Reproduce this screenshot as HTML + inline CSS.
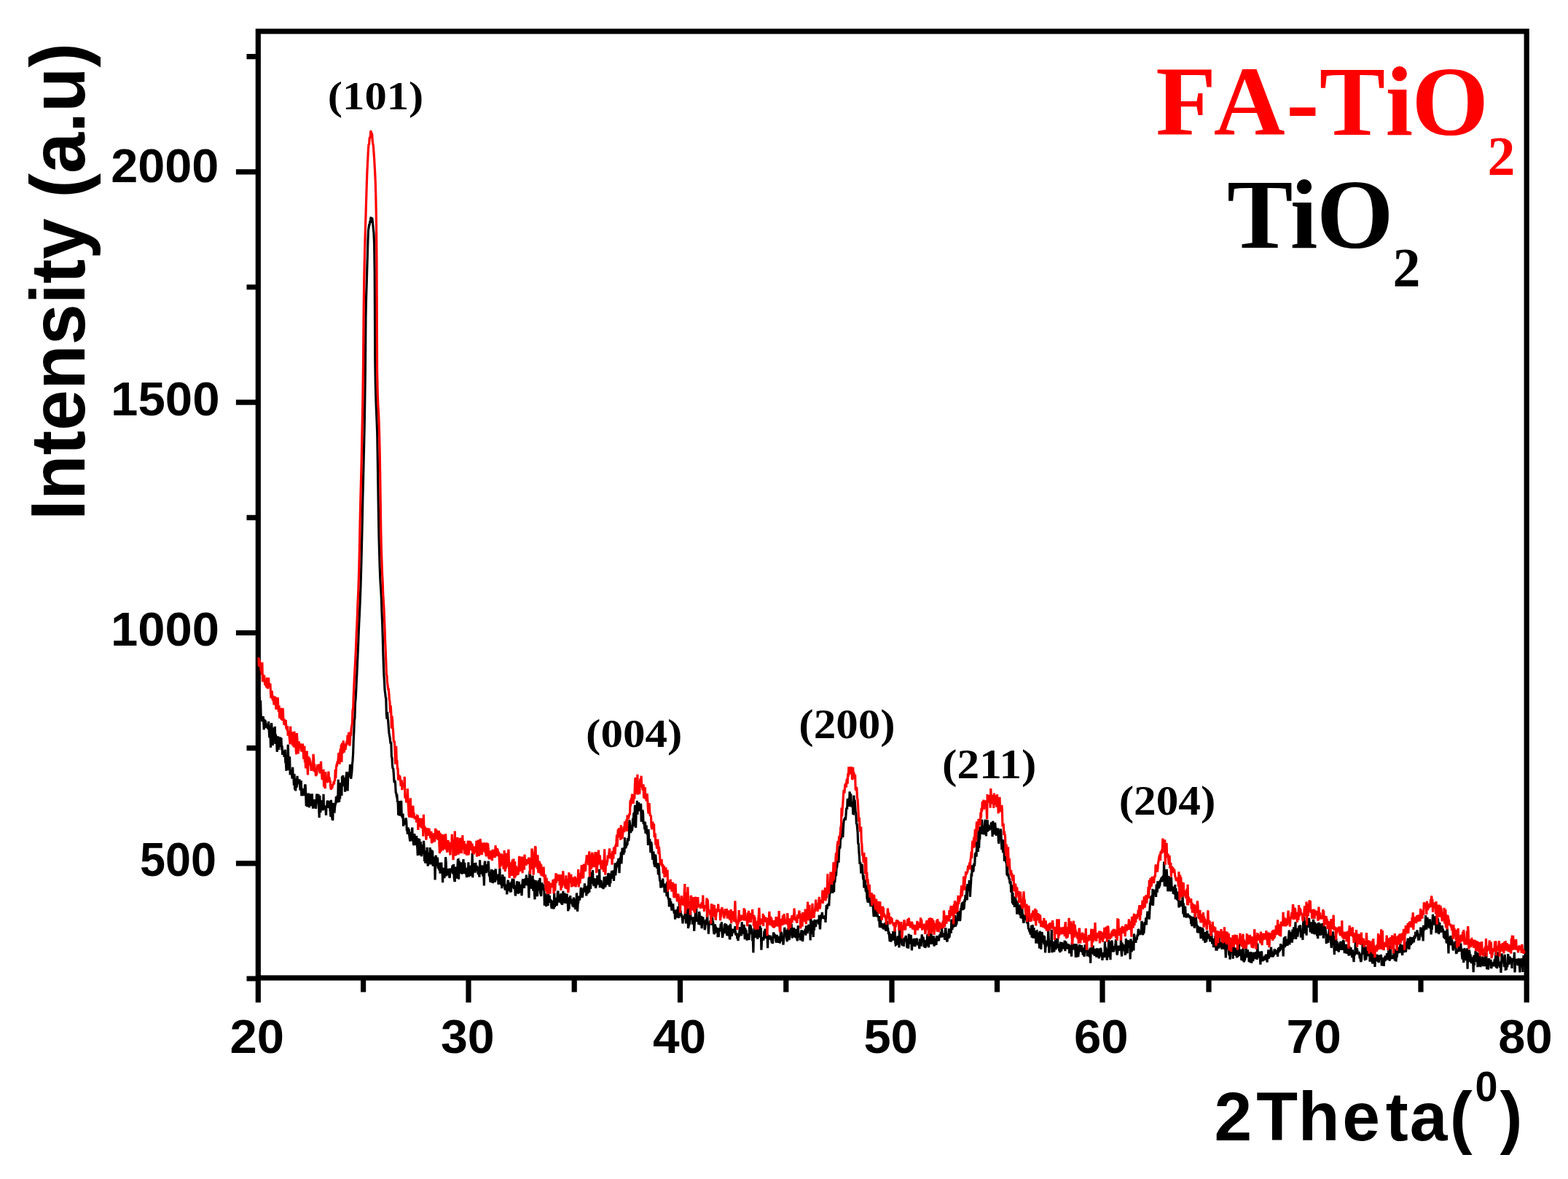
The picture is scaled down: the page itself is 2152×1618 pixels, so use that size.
<!DOCTYPE html>
<html><head><meta charset="utf-8"><title>XRD patterns of TiO2 and FA-TiO2</title><style>
html,body{margin:0;padding:0;background:#fff;overflow:hidden;}
svg{display:block;}
.sans{font-family:"Liberation Sans",Arial,sans-serif;font-weight:bold;}
.serif{font-family:"Liberation Serif","Times New Roman",serif;font-weight:bold;}
</style></head><body>
<svg width="2152" height="1618" viewBox="0 0 2152 1618">
<rect width="2152" height="1618" fill="#fff"/>
<path d="M498.6 1342.0V1361.6M643.0 1342.0V1375.8M788.2 1342.0V1361.6M933.5 1342.0V1375.8M1078.8 1342.0V1361.6M1224.0 1342.0V1375.8M1368.5 1342.0V1361.6M1513.0 1342.0V1375.8M1659.0 1342.0V1361.6M1805.0 1342.0V1375.8M1950.0 1342.0V1361.6M354.3 1342.0V1375.8M2095.2 1342.0V1375.8M354.3 1343.0H338.5M354.3 1184.8H323.9M354.3 1026.7H338.5M354.3 868.5H323.9M354.3 710.4H338.5M354.3 552.2H323.9M354.3 394.0H338.5M354.3 235.9H323.9M354.3 77.7H338.5" stroke="#000" stroke-width="7.2" fill="none"/>
<rect x="354.3" y="43.0" width="1740.9" height="1299.0" fill="none" stroke="#000" stroke-width="7.2"/>
<polyline fill="none" stroke="#000" stroke-width="3.2" stroke-linejoin="miter" stroke-miterlimit="2" points="355.0,972.0 355.3,970.5 355.8,970.7 356.4,956.3 357.0,978.1 357.6,961.3 358.2,985.2 358.7,984.8 359.3,988.2 359.9,989.9 360.5,987.7 361.1,983.1 361.6,986.4 362.2,1001.4 362.8,987.2 363.4,991.1 364.0,988.6 364.5,991.2 365.1,993.8 365.7,999.1 366.3,995.7 366.9,996.0 367.4,994.6 368.0,1000.8 368.6,990.2 369.2,1001.8 369.8,1012.3 370.3,996.5 370.9,1002.8 371.5,1026.0 372.1,996.6 372.7,992.3 373.2,1002.3 373.8,1020.5 374.4,1023.0 375.0,998.5 375.6,1013.3 376.1,1009.9 376.7,1006.4 377.3,997.1 377.9,1020.9 378.5,1007.6 379.0,1017.6 379.6,1017.0 380.2,1031.7 380.8,1027.4 381.4,1010.3 381.9,1018.1 382.5,1029.0 383.1,1011.4 383.7,1019.6 384.3,1025.2 384.8,1011.7 385.4,1015.5 386.0,1012.8 386.6,1029.1 387.2,1023.5 387.7,1035.9 388.3,1030.6 388.9,1035.2 389.5,1031.3 390.1,1038.8 390.6,1033.7 391.2,1028.7 391.8,1046.3 392.4,1046.6 393.0,1057.8 393.5,1042.4 394.1,1041.3 394.7,1037.1 395.3,1021.8 395.9,1042.2 396.4,1057.1 397.0,1049.0 397.6,1038.2 398.2,1063.4 398.8,1056.0 399.3,1058.9 399.9,1059.5 400.5,1062.9 401.1,1068.6 401.7,1052.8 402.2,1065.3 402.8,1064.2 403.4,1077.8 404.0,1062.1 404.6,1083.7 405.1,1076.7 405.7,1085.5 406.3,1068.4 406.9,1081.0 407.5,1078.4 408.0,1064.8 408.6,1075.3 409.2,1074.6 409.8,1071.4 410.4,1073.7 410.9,1069.3 411.5,1077.6 412.1,1084.6 412.7,1076.6 413.3,1071.2 413.8,1092.3 414.4,1081.9 415.0,1085.7 415.6,1084.2 416.2,1082.5 416.7,1092.1 417.3,1083.8 417.9,1088.7 418.5,1077.7 419.1,1076.7 419.6,1087.1 420.2,1105.9 420.8,1092.7 421.4,1107.1 422.0,1095.8 422.5,1096.3 423.1,1088.5 423.7,1093.4 424.3,1108.3 424.9,1103.9 425.4,1089.9 426.0,1091.5 426.6,1106.3 427.2,1091.9 427.8,1103.7 428.3,1089.3 428.9,1102.0 429.5,1109.5 430.1,1104.3 430.7,1099.8 431.2,1099.2 431.8,1097.7 432.4,1098.5 433.0,1108.4 433.6,1108.5 434.1,1102.7 434.7,1089.5 435.3,1095.7 435.9,1102.6 436.5,1100.9 437.0,1089.9 437.6,1106.4 438.2,1122.2 438.8,1091.8 439.4,1102.5 439.9,1115.3 440.5,1099.3 441.1,1099.7 441.7,1104.7 442.3,1108.2 442.8,1100.8 443.4,1112.3 444.0,1089.9 444.6,1110.8 445.2,1109.0 445.7,1105.4 446.3,1110.3 446.9,1108.2 447.5,1118.9 448.1,1105.2 448.6,1109.0 449.2,1098.7 449.8,1101.3 450.4,1108.8 451.0,1098.8 451.5,1104.9 452.1,1101.5 452.7,1108.6 453.3,1113.8 453.9,1120.8 454.4,1097.9 455.0,1112.2 455.6,1121.0 456.2,1125.3 456.8,1124.8 457.3,1101.9 457.9,1107.4 458.5,1113.2 459.1,1113.6 459.7,1106.7 460.2,1104.4 460.8,1102.3 461.4,1093.2 462.0,1098.5 462.6,1101.7 463.1,1091.6 463.7,1101.3 464.3,1069.9 464.9,1087.2 465.5,1101.0 466.0,1093.5 466.6,1096.5 467.2,1085.4 467.8,1074.1 468.4,1077.9 468.9,1092.0 469.5,1065.4 470.1,1070.9 470.7,1064.0 471.3,1072.0 471.8,1072.0 472.4,1079.0 473.0,1067.3 473.6,1086.7 474.2,1077.7 474.7,1068.3 475.3,1063.7 475.9,1059.2 476.5,1071.5 477.1,1085.4 477.6,1067.9 478.2,1060.3 478.8,1066.8 479.4,1062.2 480.0,1057.9 480.5,1049.1 481.1,1060.5 481.7,1068.8 482.3,1063.9 482.9,1058.8 483.4,1049.7 484.0,1044.2 484.6,1034.8 485.2,1016.4 485.8,1004.3 486.3,989.6 486.9,985.6 487.5,965.0 488.1,959.3 488.7,948.3 489.2,937.0 489.8,925.3 490.4,911.4 491.0,898.4 491.6,884.9 492.1,871.2 492.7,856.9 493.3,845.3 493.9,832.0 494.5,817.5 495.0,803.5 495.6,783.6 496.2,760.7 496.8,734.7 497.4,707.9 497.9,681.6 498.5,659.2 499.1,633.9 499.7,608.8 500.3,580.6 500.8,548.7 501.4,506.7 502.0,434.8 502.6,408.0 503.2,389.9 503.7,371.8 504.3,352.6 504.9,331.2 505.5,316.1 506.1,312.2 506.6,308.6 507.2,308.4 507.8,304.1 508.4,303.9 509.0,297.6 509.5,305.9 510.1,302.4 510.7,298.6 511.3,303.3 511.9,309.2 512.4,314.4 513.0,320.2 513.6,333.8 514.2,373.4 514.8,496.1 515.3,527.4 515.9,548.1 516.5,564.3 517.1,578.2 517.7,594.4 518.2,624.3 518.8,662.1 519.4,701.5 520.0,735.5 520.6,758.0 521.1,775.8 521.7,791.8 522.3,803.2 522.9,811.2 523.5,823.1 524.0,839.2 524.6,853.8 525.2,871.8 525.8,894.6 526.4,913.5 526.9,925.8 527.5,935.7 528.1,947.2 528.7,951.4 529.3,957.2 529.8,958.2 530.4,980.5 531.0,986.6 531.6,977.2 532.2,985.6 532.7,989.6 533.3,997.8 533.9,1005.4 534.5,1009.4 535.1,1012.3 535.6,1017.2 536.2,1021.1 536.8,1017.9 537.4,1038.5 538.0,1039.8 538.5,1050.5 539.1,1054.9 539.7,1054.1 540.3,1061.9 540.9,1071.9 541.4,1074.2 542.0,1071.0 542.6,1075.4 543.2,1087.6 543.8,1088.6 544.3,1092.2 544.9,1091.9 545.5,1100.9 546.1,1099.1 546.7,1118.8 547.2,1100.0 547.8,1100.6 548.4,1119.7 549.0,1109.4 549.6,1106.3 550.1,1117.0 550.7,1098.7 551.3,1120.7 551.9,1119.3 552.5,1122.8 553.0,1116.6 553.6,1133.9 554.2,1128.1 554.8,1127.3 555.4,1131.7 555.9,1124.3 556.5,1131.1 557.1,1122.4 557.7,1126.8 558.3,1138.7 558.8,1138.7 559.4,1144.8 560.0,1135.5 560.6,1140.9 561.2,1137.7 561.7,1146.0 562.3,1151.1 562.9,1154.4 563.5,1151.6 564.1,1142.0 564.6,1150.6 565.2,1141.7 565.8,1135.6 566.4,1152.7 567.0,1152.7 567.5,1158.6 568.1,1159.9 568.7,1144.4 569.3,1147.6 569.9,1155.4 570.4,1156.6 571.0,1159.9 571.6,1147.1 572.2,1156.0 572.8,1163.7 573.3,1174.2 573.9,1150.3 574.5,1173.5 575.1,1159.5 575.7,1151.4 576.2,1173.7 576.8,1156.1 577.4,1156.3 578.0,1171.8 578.6,1175.2 579.1,1168.7 579.7,1163.6 580.3,1158.7 580.9,1171.9 581.5,1153.9 582.0,1161.5 582.6,1181.9 583.2,1179.2 583.8,1184.6 584.4,1178.9 584.9,1167.2 585.5,1180.4 586.1,1162.7 586.7,1182.9 587.3,1188.6 587.8,1170.0 588.4,1186.4 589.0,1178.8 589.6,1177.4 590.2,1163.1 590.7,1177.9 591.3,1186.3 591.9,1165.8 592.5,1175.9 593.1,1174.3 593.6,1167.2 594.2,1188.7 594.8,1180.8 595.4,1181.2 596.0,1189.0 596.5,1175.6 597.1,1207.5 597.7,1178.7 598.3,1173.7 598.9,1188.3 599.4,1186.9 600.0,1177.1 600.6,1178.2 601.2,1192.2 601.8,1188.7 602.3,1190.3 602.9,1194.5 603.5,1183.8 604.1,1198.7 604.7,1189.8 605.2,1195.7 605.8,1183.6 606.4,1196.9 607.0,1193.7 607.6,1211.2 608.1,1190.9 608.7,1204.3 609.3,1197.6 609.9,1205.1 610.5,1195.0 611.0,1197.1 611.6,1176.2 612.2,1183.8 612.8,1202.2 613.4,1197.5 613.9,1200.4 614.5,1192.5 615.1,1200.8 615.7,1192.0 616.3,1194.4 616.8,1204.6 617.4,1203.6 618.0,1191.7 618.6,1195.5 619.2,1197.0 619.7,1194.0 620.3,1194.3 620.9,1187.6 621.5,1199.3 622.1,1186.6 622.6,1187.1 623.2,1204.4 623.8,1208.6 624.4,1208.6 625.0,1196.8 625.5,1189.7 626.1,1199.5 626.7,1205.7 627.3,1194.4 627.9,1190.2 628.4,1180.1 629.0,1179.8 629.6,1206.7 630.2,1181.5 630.8,1187.9 631.3,1190.8 631.9,1195.2 632.5,1183.2 633.1,1197.9 633.7,1198.1 634.2,1194.3 634.8,1189.0 635.4,1191.1 636.0,1179.1 636.6,1199.2 637.1,1190.4 637.7,1183.9 638.3,1194.4 638.9,1198.7 639.5,1197.7 640.0,1199.8 640.6,1204.1 641.2,1190.8 641.8,1196.4 642.4,1196.9 642.9,1183.3 643.5,1203.3 644.1,1192.0 644.7,1196.5 645.3,1196.8 645.8,1187.9 646.4,1200.6 647.0,1201.7 647.6,1195.2 648.2,1171.1 648.7,1204.3 649.3,1192.3 649.9,1188.3 650.5,1188.6 651.1,1184.5 651.6,1190.0 652.2,1197.6 652.8,1183.9 653.4,1194.1 654.0,1187.7 654.5,1190.2 655.1,1189.2 655.7,1194.5 656.3,1200.0 656.9,1191.8 657.4,1198.9 658.0,1203.6 658.6,1180.3 659.2,1198.0 659.8,1189.5 660.3,1190.5 660.9,1199.7 661.5,1190.4 662.1,1187.5 662.7,1202.5 663.2,1201.1 663.8,1196.5 664.4,1215.5 665.0,1186.2 665.6,1181.6 666.1,1192.9 666.7,1186.1 667.3,1198.0 667.9,1190.9 668.5,1191.1 669.0,1196.1 669.6,1189.8 670.2,1181.7 670.8,1191.2 671.4,1202.6 671.9,1199.2 672.5,1204.8 673.1,1210.9 673.7,1205.0 674.3,1198.0 674.8,1193.0 675.4,1202.6 676.0,1211.7 676.6,1210.6 677.2,1207.2 677.7,1194.2 678.3,1205.2 678.9,1206.5 679.5,1210.8 680.1,1192.4 680.6,1197.2 681.2,1204.0 681.8,1204.4 682.4,1199.5 683.0,1208.3 683.5,1203.0 684.1,1214.0 684.7,1202.7 685.3,1208.3 685.9,1191.8 686.4,1209.5 687.0,1203.5 687.6,1214.3 688.2,1208.1 688.8,1219.1 689.3,1206.4 689.9,1200.2 690.5,1213.1 691.1,1216.1 691.7,1206.8 692.2,1203.1 692.8,1218.9 693.4,1221.5 694.0,1219.5 694.6,1215.2 695.1,1214.9 695.7,1227.4 696.3,1221.6 696.9,1209.1 697.5,1208.1 698.0,1221.1 698.6,1222.1 699.2,1212.4 699.8,1211.5 700.4,1224.7 700.9,1215.3 701.5,1224.2 702.1,1209.9 702.7,1210.9 703.3,1205.7 703.8,1218.4 704.4,1215.8 705.0,1206.3 705.6,1220.2 706.2,1215.0 706.7,1217.3 707.3,1229.5 707.9,1226.1 708.5,1222.4 709.1,1216.0 709.6,1209.3 710.2,1213.0 710.8,1214.8 711.4,1226.6 712.0,1210.1 712.5,1212.5 713.1,1216.2 713.7,1218.8 714.3,1223.6 714.9,1225.2 715.4,1213.9 716.0,1229.2 716.6,1219.5 717.2,1208.3 717.8,1206.5 718.3,1210.4 718.9,1211.3 719.5,1218.8 720.1,1206.4 720.7,1208.0 721.2,1205.6 721.8,1213.7 722.4,1200.5 723.0,1215.5 723.6,1205.1 724.1,1209.4 724.7,1214.3 725.3,1213.3 725.9,1232.3 726.5,1204.2 727.0,1195.4 727.6,1201.5 728.2,1217.9 728.8,1203.8 729.4,1219.8 729.9,1210.8 730.5,1218.3 731.1,1201.5 731.7,1221.1 732.3,1222.3 732.8,1207.0 733.4,1224.2 734.0,1234.3 734.6,1214.9 735.2,1208.3 735.7,1211.2 736.3,1213.8 736.9,1223.8 737.5,1230.3 738.1,1214.1 738.6,1215.9 739.2,1207.8 739.8,1214.7 740.4,1222.5 741.0,1204.9 741.5,1225.1 742.1,1227.2 742.7,1230.0 743.3,1217.7 743.9,1211.3 744.4,1221.4 745.0,1217.1 745.6,1213.3 746.2,1221.6 746.8,1218.6 747.3,1242.6 747.9,1236.0 748.5,1238.3 749.1,1226.2 749.7,1244.3 750.2,1233.6 750.8,1243.0 751.4,1230.8 752.0,1243.0 752.6,1226.8 753.1,1237.7 753.7,1237.2 754.3,1228.9 754.9,1238.9 755.5,1234.4 756.0,1235.4 756.6,1243.3 757.2,1247.0 757.8,1235.9 758.4,1246.2 758.9,1243.9 759.5,1241.7 760.1,1247.5 760.7,1224.9 761.3,1245.0 761.8,1237.9 762.4,1232.1 763.0,1233.4 763.6,1241.8 764.2,1242.8 764.7,1239.0 765.3,1225.2 765.9,1222.7 766.5,1233.3 767.1,1237.4 767.6,1227.5 768.2,1238.7 768.8,1236.5 769.4,1235.4 770.0,1226.2 770.5,1240.8 771.1,1238.8 771.7,1241.6 772.3,1234.5 772.9,1222.8 773.4,1235.1 774.0,1239.0 774.6,1232.3 775.2,1225.7 775.8,1238.4 776.3,1239.6 776.9,1226.8 777.5,1231.1 778.1,1226.5 778.7,1239.5 779.2,1238.9 779.8,1250.4 780.4,1231.4 781.0,1247.8 781.6,1236.4 782.1,1240.0 782.7,1229.0 783.3,1238.2 783.9,1234.1 784.5,1237.2 785.0,1239.4 785.6,1241.6 786.2,1244.1 786.8,1237.9 787.4,1231.5 787.9,1245.5 788.5,1238.6 789.1,1233.6 789.7,1248.1 790.3,1240.1 790.8,1243.1 791.4,1225.5 792.0,1232.8 792.6,1250.9 793.2,1239.6 793.7,1238.7 794.3,1229.6 794.9,1232.8 795.5,1235.4 796.1,1231.4 796.6,1230.3 797.2,1217.9 797.8,1223.6 798.4,1225.2 799.0,1231.5 799.5,1230.4 800.1,1225.8 800.7,1219.8 801.3,1218.9 801.9,1224.7 802.4,1212.4 803.0,1219.3 803.6,1217.6 804.2,1216.9 804.8,1229.5 805.3,1215.7 805.9,1222.0 806.5,1226.6 807.1,1218.0 807.7,1213.7 808.2,1203.9 808.8,1224.9 809.4,1204.2 810.0,1196.9 810.6,1219.9 811.1,1200.6 811.7,1202.3 812.3,1205.7 812.9,1201.8 813.5,1194.1 814.0,1211.8 814.6,1213.8 815.2,1215.8 815.8,1209.6 816.4,1206.7 816.9,1205.6 817.5,1219.0 818.1,1216.1 818.7,1206.3 819.3,1212.2 819.8,1201.4 820.4,1214.3 821.0,1203.1 821.6,1210.5 822.2,1210.4 822.7,1192.9 823.3,1218.1 823.9,1213.5 824.5,1208.4 825.1,1209.3 825.6,1214.2 826.2,1214.0 826.8,1218.8 827.4,1216.6 828.0,1219.9 828.5,1217.0 829.1,1204.5 829.7,1204.1 830.3,1217.4 830.9,1216.2 831.4,1212.6 832.0,1202.5 832.6,1206.1 833.2,1204.5 833.8,1214.4 834.3,1202.9 834.9,1198.1 835.5,1201.3 836.1,1208.5 836.7,1217.0 837.2,1201.1 837.8,1212.1 838.4,1199.8 839.0,1199.0 839.6,1195.0 840.1,1206.0 840.7,1195.7 841.3,1205.2 841.9,1194.3 842.5,1208.9 843.0,1196.8 843.6,1194.5 844.2,1184.3 844.8,1201.4 845.4,1193.1 845.9,1190.3 846.5,1188.8 847.1,1183.9 847.7,1182.5 848.3,1187.7 848.8,1178.1 849.4,1181.7 850.0,1198.2 850.6,1179.4 851.2,1176.9 851.7,1184.4 852.3,1169.2 852.9,1185.4 853.5,1173.7 854.1,1163.7 854.6,1169.8 855.2,1164.3 855.8,1173.1 856.4,1163.1 857.0,1170.2 857.5,1149.3 858.1,1158.5 858.7,1164.1 859.3,1161.9 859.9,1156.9 860.4,1160.2 861.0,1158.6 861.6,1151.2 862.2,1151.0 862.8,1154.1 863.3,1146.9 863.9,1125.4 864.5,1130.5 865.1,1135.2 865.7,1143.0 866.2,1136.7 866.8,1139.3 867.4,1140.4 868.0,1135.4 868.6,1122.9 869.1,1134.3 869.7,1116.6 870.3,1115.4 870.9,1119.8 871.5,1104.7 872.0,1132.1 872.6,1135.9 873.2,1115.7 873.8,1112.8 874.4,1098.7 874.9,1117.9 875.5,1107.6 876.1,1103.0 876.7,1101.2 877.3,1111.6 877.8,1111.3 878.4,1112.7 879.0,1109.9 879.6,1102.7 880.2,1127.7 880.7,1124.4 881.3,1115.6 881.9,1111.6 882.5,1115.7 883.1,1129.8 883.6,1130.1 884.2,1130.0 884.8,1138.3 885.4,1127.5 886.0,1143.7 886.5,1136.9 887.1,1132.6 887.7,1143.8 888.3,1144.8 888.9,1140.0 889.4,1159.9 890.0,1138.1 890.6,1153.8 891.2,1157.1 891.8,1151.4 892.3,1159.0 892.9,1170.1 893.5,1155.2 894.1,1157.7 894.7,1165.2 895.2,1173.4 895.8,1179.9 896.4,1178.3 897.0,1168.5 897.6,1186.3 898.1,1185.6 898.7,1189.8 899.3,1172.9 899.9,1174.5 900.5,1183.6 901.0,1187.0 901.6,1191.9 902.2,1186.2 902.8,1188.2 903.4,1200.4 903.9,1184.4 904.5,1192.6 905.1,1202.7 905.7,1209.4 906.3,1207.7 906.8,1218.5 907.4,1211.1 908.0,1215.4 908.6,1217.6 909.2,1213.7 909.7,1205.7 910.3,1214.2 910.9,1216.1 911.5,1212.9 912.1,1224.8 912.6,1217.8 913.2,1212.5 913.8,1223.9 914.4,1218.4 915.0,1230.2 915.5,1210.0 916.1,1217.6 916.7,1230.5 917.3,1233.4 917.9,1233.5 918.4,1244.5 919.0,1233.8 919.6,1233.2 920.2,1243.5 920.8,1236.8 921.3,1242.8 921.9,1249.7 922.5,1241.2 923.1,1242.5 923.7,1240.0 924.2,1247.7 924.8,1250.1 925.4,1253.7 926.0,1251.9 926.6,1261.7 927.1,1249.9 927.7,1250.5 928.3,1248.4 928.9,1259.6 929.5,1252.2 930.0,1250.4 930.6,1244.1 931.2,1252.7 931.8,1260.0 932.4,1237.2 932.9,1247.7 933.5,1249.5 934.1,1250.6 934.7,1256.9 935.3,1254.4 935.8,1258.3 936.4,1259.7 937.0,1267.3 937.6,1256.6 938.2,1261.0 938.7,1257.3 939.3,1260.2 939.9,1256.9 940.5,1251.6 941.1,1262.3 941.6,1267.3 942.2,1253.5 942.8,1259.9 943.4,1260.1 944.0,1245.9 944.5,1273.9 945.1,1270.7 945.7,1268.9 946.3,1267.8 946.9,1255.2 947.4,1244.4 948.0,1260.8 948.6,1261.9 949.2,1259.6 949.8,1258.5 950.3,1268.4 950.9,1267.1 951.5,1261.7 952.1,1258.5 952.7,1277.6 953.2,1267.8 953.8,1262.9 954.4,1253.3 955.0,1251.8 955.6,1243.5 956.1,1260.8 956.7,1264.6 957.3,1261.5 957.9,1262.8 958.5,1264.6 959.0,1268.8 959.6,1251.0 960.2,1254.7 960.8,1269.4 961.4,1265.4 961.9,1267.0 962.5,1256.9 963.1,1274.2 963.7,1264.8 964.3,1262.6 964.8,1258.3 965.4,1265.8 966.0,1265.8 966.6,1264.1 967.2,1276.1 967.7,1273.4 968.3,1265.5 968.9,1261.9 969.5,1263.1 970.1,1268.6 970.6,1247.8 971.2,1268.9 971.8,1265.6 972.4,1281.7 973.0,1270.7 973.5,1266.9 974.1,1268.6 974.7,1264.4 975.3,1264.2 975.9,1268.8 976.4,1256.1 977.0,1269.8 977.6,1258.9 978.2,1265.6 978.8,1265.8 979.3,1275.6 979.9,1281.6 980.5,1281.0 981.1,1268.5 981.7,1270.4 982.2,1272.5 982.8,1273.5 983.4,1280.2 984.0,1277.4 984.6,1273.1 985.1,1286.2 985.7,1279.5 986.3,1286.0 986.9,1273.5 987.5,1278.0 988.0,1276.5 988.6,1275.7 989.2,1267.7 989.8,1276.6 990.4,1265.3 990.9,1277.8 991.5,1286.9 992.1,1283.2 992.7,1277.8 993.3,1274.0 993.8,1281.2 994.4,1269.4 995.0,1268.4 995.6,1267.9 996.2,1279.4 996.7,1268.1 997.3,1281.0 997.9,1284.0 998.5,1281.9 999.1,1276.8 999.6,1280.4 1000.2,1269.8 1000.8,1279.2 1001.4,1289.2 1002.0,1287.9 1002.5,1267.8 1003.1,1277.9 1003.7,1276.3 1004.3,1284.7 1004.9,1280.5 1005.4,1278.2 1006.0,1274.7 1006.6,1280.1 1007.2,1278.2 1007.8,1279.6 1008.3,1278.3 1008.9,1271.2 1009.5,1282.2 1010.1,1282.6 1010.7,1281.1 1011.2,1281.5 1011.8,1287.9 1012.4,1287.1 1013.0,1291.0 1013.6,1284.7 1014.1,1285.8 1014.7,1280.6 1015.3,1273.4 1015.9,1272.6 1016.5,1283.9 1017.0,1281.4 1017.6,1284.2 1018.2,1265.4 1018.8,1279.2 1019.4,1281.4 1019.9,1278.2 1020.5,1279.0 1021.1,1268.8 1021.7,1280.0 1022.3,1289.2 1022.8,1273.3 1023.4,1284.6 1024.0,1276.2 1024.6,1282.3 1025.2,1290.6 1025.7,1281.7 1026.3,1283.9 1026.9,1285.8 1027.5,1281.4 1028.1,1290.0 1028.6,1268.6 1029.2,1279.8 1029.8,1269.5 1030.4,1272.1 1031.0,1282.2 1031.5,1274.4 1032.1,1279.8 1032.7,1291.5 1033.3,1286.3 1033.9,1307.5 1034.4,1282.2 1035.0,1283.5 1035.6,1266.8 1036.2,1283.1 1036.8,1280.3 1037.3,1286.6 1037.9,1283.8 1038.5,1279.4 1039.1,1270.9 1039.7,1288.9 1040.2,1279.3 1040.8,1272.6 1041.4,1286.6 1042.0,1270.9 1042.6,1280.1 1043.1,1270.6 1043.7,1282.4 1044.3,1273.2 1044.9,1303.6 1045.5,1291.9 1046.0,1287.6 1046.6,1286.9 1047.2,1289.0 1047.8,1290.4 1048.4,1286.6 1048.9,1277.6 1049.5,1286.0 1050.1,1274.6 1050.7,1282.6 1051.3,1287.8 1051.8,1277.9 1052.4,1288.1 1053.0,1282.0 1053.6,1301.1 1054.2,1282.8 1054.7,1288.7 1055.3,1289.5 1055.9,1286.4 1056.5,1287.6 1057.1,1283.7 1057.6,1286.4 1058.2,1286.8 1058.8,1291.1 1059.4,1294.1 1060.0,1285.6 1060.5,1295.1 1061.1,1285.7 1061.7,1279.5 1062.3,1282.9 1062.9,1281.4 1063.4,1284.3 1064.0,1286.2 1064.6,1287.3 1065.2,1293.6 1065.8,1290.7 1066.3,1282.9 1066.9,1289.3 1067.5,1285.2 1068.1,1290.7 1068.7,1293.8 1069.2,1284.8 1069.8,1290.6 1070.4,1294.5 1071.0,1287.8 1071.6,1278.1 1072.1,1284.5 1072.7,1279.3 1073.3,1291.7 1073.9,1286.4 1074.5,1287.1 1075.0,1296.6 1075.6,1289.8 1076.2,1285.7 1076.8,1272.7 1077.4,1281.1 1077.9,1279.9 1078.5,1283.1 1079.1,1276.0 1079.7,1288.3 1080.3,1292.3 1080.8,1281.6 1081.4,1274.2 1082.0,1284.5 1082.6,1282.1 1083.2,1290.1 1083.7,1283.0 1084.3,1278.4 1084.9,1274.0 1085.5,1283.2 1086.1,1267.5 1086.6,1275.6 1087.2,1287.5 1087.8,1281.6 1088.4,1282.2 1089.0,1280.8 1089.5,1273.1 1090.1,1279.6 1090.7,1285.1 1091.3,1285.4 1091.9,1274.9 1092.4,1282.2 1093.0,1287.7 1093.6,1283.1 1094.2,1291.4 1094.8,1281.3 1095.3,1270.2 1095.9,1280.9 1096.5,1281.9 1097.1,1285.2 1097.7,1283.9 1098.2,1290.5 1098.8,1284.3 1099.4,1281.4 1100.0,1276.5 1100.6,1278.2 1101.1,1288.2 1101.7,1291.9 1102.3,1281.5 1102.9,1280.2 1103.5,1277.4 1104.0,1280.0 1104.6,1278.6 1105.2,1274.7 1105.8,1283.7 1106.4,1270.2 1106.9,1278.2 1107.5,1278.0 1108.1,1281.0 1108.7,1275.3 1109.3,1269.7 1109.8,1275.1 1110.4,1268.6 1111.0,1272.7 1111.6,1269.7 1112.2,1290.5 1112.7,1259.7 1113.3,1265.8 1113.9,1281.6 1114.5,1271.7 1115.1,1263.6 1115.6,1276.5 1116.2,1286.0 1116.8,1271.8 1117.4,1277.0 1118.0,1261.9 1118.5,1266.5 1119.1,1271.3 1119.7,1270.7 1120.3,1264.5 1120.9,1264.6 1121.4,1263.9 1122.0,1262.2 1122.6,1263.3 1123.2,1262.5 1123.8,1268.7 1124.3,1255.7 1124.9,1267.7 1125.5,1275.3 1126.1,1264.1 1126.7,1259.2 1127.2,1255.3 1127.8,1257.3 1128.4,1251.8 1129.0,1260.3 1129.6,1256.8 1130.1,1261.0 1130.7,1256.4 1131.3,1258.3 1131.9,1261.3 1132.5,1256.2 1133.0,1266.0 1133.6,1254.0 1134.2,1242.0 1134.8,1247.1 1135.4,1246.3 1135.9,1240.4 1136.5,1242.7 1137.1,1240.0 1137.7,1243.3 1138.3,1232.0 1138.8,1224.9 1139.4,1226.5 1140.0,1214.8 1140.6,1208.0 1141.2,1216.9 1141.7,1218.5 1142.3,1215.3 1142.9,1225.8 1143.5,1208.5 1144.1,1205.5 1144.6,1224.3 1145.2,1198.6 1145.8,1211.1 1146.4,1202.5 1147.0,1183.8 1147.5,1202.1 1148.1,1189.8 1148.7,1189.7 1149.3,1184.3 1149.9,1180.5 1150.4,1179.7 1151.0,1183.7 1151.6,1167.6 1152.2,1161.0 1152.8,1164.7 1153.3,1158.4 1153.9,1135.0 1154.5,1151.6 1155.1,1142.7 1155.7,1140.6 1156.2,1129.3 1156.8,1149.1 1157.4,1136.7 1158.0,1127.4 1158.6,1124.9 1159.1,1124.0 1159.7,1121.9 1160.3,1125.5 1160.9,1119.9 1161.5,1110.6 1162.0,1108.8 1162.6,1110.6 1163.2,1096.5 1163.8,1096.9 1164.4,1104.1 1164.9,1095.6 1165.5,1107.0 1166.1,1086.3 1166.7,1092.3 1167.3,1090.1 1167.8,1090.5 1168.4,1104.0 1169.0,1107.4 1169.6,1101.3 1170.2,1101.0 1170.7,1116.6 1171.3,1116.8 1171.9,1091.5 1172.5,1108.1 1173.1,1097.7 1173.6,1104.6 1174.2,1114.3 1174.8,1115.6 1175.4,1131.1 1176.0,1129.8 1176.5,1136.2 1177.1,1142.4 1177.7,1158.4 1178.3,1157.1 1178.9,1168.8 1179.4,1175.4 1180.0,1185.9 1180.6,1183.2 1181.2,1186.4 1181.8,1198.6 1182.3,1194.5 1182.9,1185.7 1183.5,1190.6 1184.1,1198.6 1184.7,1207.2 1185.2,1200.9 1185.8,1218.4 1186.4,1213.4 1187.0,1211.1 1187.6,1207.1 1188.1,1222.1 1188.7,1223.9 1189.3,1214.6 1189.9,1233.0 1190.5,1234.6 1191.0,1238.4 1191.6,1230.6 1192.2,1238.9 1192.8,1221.3 1193.4,1239.2 1193.9,1235.4 1194.5,1239.0 1195.1,1244.1 1195.7,1237.7 1196.3,1242.5 1196.8,1238.4 1197.4,1240.9 1198.0,1239.9 1198.6,1250.9 1199.2,1258.1 1199.7,1244.4 1200.3,1241.3 1200.9,1251.5 1201.5,1256.6 1202.1,1256.6 1202.6,1248.1 1203.2,1256.8 1203.8,1252.1 1204.4,1255.8 1205.0,1258.6 1205.5,1257.5 1206.1,1264.2 1206.7,1258.6 1207.3,1272.8 1207.9,1264.4 1208.4,1257.0 1209.0,1271.6 1209.6,1271.5 1210.2,1268.4 1210.8,1267.4 1211.3,1270.4 1211.9,1274.5 1212.5,1268.8 1213.1,1275.7 1213.7,1267.4 1214.2,1275.1 1214.8,1266.1 1215.4,1275.5 1216.0,1277.7 1216.6,1271.2 1217.1,1277.7 1217.7,1264.1 1218.3,1276.1 1218.9,1275.7 1219.5,1282.1 1220.0,1278.5 1220.6,1285.9 1221.2,1292.1 1221.8,1281.2 1222.4,1286.8 1222.9,1292.5 1223.5,1288.4 1224.1,1289.9 1224.7,1282.1 1225.3,1286.5 1225.8,1278.1 1226.4,1290.5 1227.0,1288.2 1227.6,1288.6 1228.2,1274.5 1228.7,1293.3 1229.3,1296.8 1229.9,1296.4 1230.5,1290.7 1231.1,1296.6 1231.6,1288.6 1232.2,1284.5 1232.8,1288.5 1233.4,1284.5 1234.0,1300.5 1234.5,1273.8 1235.1,1291.2 1235.7,1284.4 1236.3,1286.5 1236.9,1294.7 1237.4,1289.9 1238.0,1297.5 1238.6,1289.8 1239.2,1290.0 1239.8,1291.6 1240.3,1299.0 1240.9,1286.9 1241.5,1289.4 1242.1,1288.0 1242.7,1288.8 1243.2,1284.0 1243.8,1290.0 1244.4,1294.8 1245.0,1301.1 1245.6,1295.2 1246.1,1288.6 1246.7,1301.6 1247.3,1281.6 1247.9,1295.7 1248.5,1285.0 1249.0,1291.9 1249.6,1284.3 1250.2,1283.2 1250.8,1289.4 1251.4,1304.3 1251.9,1295.3 1252.5,1298.8 1253.1,1291.0 1253.7,1293.2 1254.3,1288.2 1254.8,1289.4 1255.4,1291.0 1256.0,1299.1 1256.6,1295.2 1257.2,1288.4 1257.7,1292.0 1258.3,1287.5 1258.9,1296.4 1259.5,1294.7 1260.1,1294.6 1260.6,1297.4 1261.2,1296.5 1261.8,1302.2 1262.4,1288.2 1263.0,1297.5 1263.5,1291.7 1264.1,1298.7 1264.7,1289.6 1265.3,1282.3 1265.9,1290.0 1266.4,1288.6 1267.0,1285.7 1267.6,1290.1 1268.2,1299.7 1268.8,1290.2 1269.3,1296.6 1269.9,1300.9 1270.5,1298.6 1271.1,1295.0 1271.7,1297.8 1272.2,1289.2 1272.8,1283.6 1273.4,1282.2 1274.0,1297.5 1274.6,1300.1 1275.1,1289.6 1275.7,1291.5 1276.3,1276.6 1276.9,1295.7 1277.5,1290.3 1278.0,1279.2 1278.6,1293.9 1279.2,1294.4 1279.8,1295.7 1280.4,1289.6 1280.9,1291.7 1281.5,1284.4 1282.1,1298.6 1282.7,1287.4 1283.3,1297.2 1283.8,1292.4 1284.4,1287.4 1285.0,1296.8 1285.6,1284.2 1286.2,1290.4 1286.7,1288.7 1287.3,1286.7 1287.9,1288.4 1288.5,1291.4 1289.1,1284.2 1289.6,1283.2 1290.2,1284.7 1290.8,1282.1 1291.4,1279.0 1292.0,1286.6 1292.5,1273.5 1293.1,1283.4 1293.7,1280.6 1294.3,1284.1 1294.9,1285.6 1295.4,1283.9 1296.0,1281.8 1296.6,1289.9 1297.2,1277.8 1297.8,1273.1 1298.3,1278.8 1298.9,1284.4 1299.5,1291.0 1300.1,1292.4 1300.7,1281.1 1301.2,1285.7 1301.8,1288.2 1302.4,1274.4 1303.0,1286.5 1303.6,1279.3 1304.1,1275.2 1304.7,1278.9 1305.3,1279.0 1305.9,1261.5 1306.5,1274.1 1307.0,1274.3 1307.6,1267.8 1308.2,1272.7 1308.8,1268.3 1309.4,1265.0 1309.9,1268.6 1310.5,1255.9 1311.1,1270.4 1311.7,1270.3 1312.3,1268.1 1312.8,1268.7 1313.4,1261.5 1314.0,1259.7 1314.6,1251.2 1315.2,1250.2 1315.7,1255.1 1316.3,1264.2 1316.9,1256.9 1317.5,1264.0 1318.1,1258.9 1318.6,1246.2 1319.2,1247.3 1319.8,1242.5 1320.4,1238.6 1321.0,1247.7 1321.5,1248.8 1322.1,1237.1 1322.7,1247.8 1323.3,1245.0 1323.9,1234.0 1324.4,1237.9 1325.0,1227.8 1325.6,1232.1 1326.2,1233.4 1326.8,1216.2 1327.3,1235.4 1327.9,1213.0 1328.5,1222.4 1329.1,1216.5 1329.7,1223.1 1330.2,1209.6 1330.8,1209.8 1331.4,1230.8 1332.0,1219.3 1332.6,1211.4 1333.1,1198.7 1333.7,1203.0 1334.3,1187.4 1334.9,1190.4 1335.5,1195.7 1336.0,1195.3 1336.6,1184.9 1337.2,1188.6 1337.8,1185.8 1338.4,1170.6 1338.9,1174.9 1339.5,1169.4 1340.1,1175.6 1340.7,1154.7 1341.3,1162.9 1341.8,1156.0 1342.4,1169.0 1343.0,1136.3 1343.6,1163.7 1344.2,1148.4 1344.7,1152.5 1345.3,1136.1 1345.9,1136.3 1346.5,1143.2 1347.1,1144.7 1347.6,1124.6 1348.2,1137.3 1348.8,1138.1 1349.4,1139.6 1350.0,1145.3 1350.5,1141.8 1351.1,1136.7 1351.7,1128.5 1352.3,1124.8 1352.9,1137.3 1353.4,1147.3 1354.0,1135.4 1354.6,1142.0 1355.2,1125.4 1355.8,1141.1 1356.3,1131.9 1356.9,1134.1 1357.5,1138.5 1358.1,1139.3 1358.7,1135.3 1359.2,1136.5 1359.8,1136.3 1360.4,1128.4 1361.0,1132.0 1361.6,1135.0 1362.1,1148.2 1362.7,1126.7 1363.3,1137.3 1363.9,1144.9 1364.5,1143.0 1365.0,1130.9 1365.6,1128.9 1366.2,1135.0 1366.8,1142.1 1367.4,1146.7 1367.9,1139.3 1368.5,1142.5 1369.1,1139.2 1369.7,1136.5 1370.3,1153.0 1370.8,1157.9 1371.4,1144.3 1372.0,1140.1 1372.6,1152.3 1373.2,1137.5 1373.7,1139.9 1374.3,1152.3 1374.9,1166.1 1375.5,1152.3 1376.1,1157.6 1376.6,1170.2 1377.2,1153.8 1377.8,1153.8 1378.4,1181.9 1379.0,1176.7 1379.5,1169.9 1380.1,1178.8 1380.7,1184.1 1381.3,1179.6 1381.9,1200.9 1382.4,1178.5 1383.0,1202.6 1383.6,1199.2 1384.2,1202.0 1384.8,1206.5 1385.3,1204.9 1385.9,1211.2 1386.5,1212.6 1387.1,1209.4 1387.7,1224.8 1388.2,1214.3 1388.8,1218.6 1389.4,1239.6 1390.0,1225.1 1390.6,1240.3 1391.1,1240.5 1391.7,1234.5 1392.3,1244.9 1392.9,1232.0 1393.5,1231.0 1394.0,1235.0 1394.6,1236.9 1395.2,1243.7 1395.8,1254.7 1396.4,1236.6 1396.9,1241.3 1397.5,1243.8 1398.1,1246.6 1398.7,1243.4 1399.3,1255.7 1399.8,1244.4 1400.4,1241.5 1401.0,1260.0 1401.6,1259.0 1402.2,1250.3 1402.7,1245.5 1403.3,1253.5 1403.9,1258.3 1404.5,1264.9 1405.1,1266.6 1405.6,1255.3 1406.2,1258.9 1406.8,1258.5 1407.4,1261.4 1408.0,1259.5 1408.5,1261.4 1409.1,1264.0 1409.7,1267.1 1410.3,1256.3 1410.9,1266.5 1411.4,1274.9 1412.0,1274.3 1412.6,1277.1 1413.2,1278.5 1413.8,1278.3 1414.3,1282.6 1414.9,1277.1 1415.5,1270.1 1416.1,1286.6 1416.7,1281.7 1417.2,1269.1 1417.8,1286.1 1418.4,1286.2 1419.0,1273.2 1419.6,1284.9 1420.1,1282.3 1420.7,1285.4 1421.3,1279.8 1421.9,1294.7 1422.5,1278.1 1423.0,1277.8 1423.6,1282.1 1424.2,1285.0 1424.8,1281.9 1425.4,1295.5 1425.9,1279.7 1426.5,1301.5 1427.1,1277.7 1427.7,1290.1 1428.3,1298.7 1428.8,1302.8 1429.4,1286.8 1430.0,1279.0 1430.6,1284.3 1431.2,1285.8 1431.7,1293.8 1432.3,1283.7 1432.9,1296.2 1433.5,1284.6 1434.1,1296.0 1434.6,1307.4 1435.2,1296.4 1435.8,1299.5 1436.4,1293.6 1437.0,1290.8 1437.5,1296.5 1438.1,1297.3 1438.7,1275.7 1439.3,1289.1 1439.9,1307.7 1440.4,1298.5 1441.0,1296.4 1441.6,1292.9 1442.2,1293.3 1442.8,1295.0 1443.3,1275.7 1443.9,1307.3 1444.5,1299.1 1445.1,1291.8 1445.7,1305.4 1446.2,1296.4 1446.8,1306.3 1447.4,1293.5 1448.0,1302.9 1448.6,1287.2 1449.1,1303.4 1449.7,1288.5 1450.3,1298.3 1450.9,1300.9 1451.5,1288.1 1452.0,1299.4 1452.6,1295.8 1453.2,1299.5 1453.8,1305.1 1454.4,1299.0 1454.9,1307.1 1455.5,1293.9 1456.1,1293.2 1456.7,1305.4 1457.3,1292.8 1457.8,1301.8 1458.4,1294.2 1459.0,1299.3 1459.6,1302.3 1460.2,1295.1 1460.7,1295.5 1461.3,1290.7 1461.9,1305.2 1462.5,1294.3 1463.1,1294.0 1463.6,1299.6 1464.2,1297.8 1464.8,1294.9 1465.4,1302.3 1466.0,1300.8 1466.5,1295.9 1467.1,1297.2 1467.7,1308.4 1468.3,1301.1 1468.9,1297.2 1469.4,1299.9 1470.0,1304.1 1470.6,1312.7 1471.2,1293.4 1471.8,1303.6 1472.3,1297.5 1472.9,1303.0 1473.5,1297.7 1474.1,1296.7 1474.7,1296.7 1475.2,1298.4 1475.8,1303.5 1476.4,1313.8 1477.0,1295.6 1477.6,1297.0 1478.1,1299.4 1478.7,1312.0 1479.3,1311.8 1479.9,1311.7 1480.5,1306.4 1481.0,1303.2 1481.6,1296.1 1482.2,1304.1 1482.8,1305.8 1483.4,1301.3 1483.9,1300.3 1484.5,1297.1 1485.1,1307.2 1485.7,1304.1 1486.3,1310.7 1486.8,1301.3 1487.4,1301.7 1488.0,1312.9 1488.6,1306.3 1489.2,1296.3 1489.7,1301.5 1490.3,1299.9 1490.9,1305.2 1491.5,1294.7 1492.1,1310.8 1492.6,1310.8 1493.2,1306.1 1493.8,1306.3 1494.4,1306.3 1495.0,1303.8 1495.5,1313.7 1496.1,1300.7 1496.7,1321.8 1497.3,1300.2 1497.9,1308.7 1498.4,1300.9 1499.0,1302.1 1499.6,1305.8 1500.2,1297.5 1500.8,1310.2 1501.3,1308.0 1501.9,1310.3 1502.5,1311.5 1503.1,1301.8 1503.7,1305.6 1504.2,1305.3 1504.8,1313.7 1505.4,1306.0 1506.0,1301.3 1506.6,1308.8 1507.1,1304.0 1507.7,1312.0 1508.3,1315.1 1508.9,1312.7 1509.5,1301.6 1510.0,1312.0 1510.6,1300.9 1511.2,1304.1 1511.8,1312.3 1512.4,1307.7 1512.9,1317.8 1513.5,1311.4 1514.1,1307.3 1514.7,1313.2 1515.3,1306.6 1515.8,1314.1 1516.4,1292.1 1517.0,1305.2 1517.6,1300.0 1518.2,1304.8 1518.7,1302.0 1519.3,1317.7 1519.9,1309.1 1520.5,1304.7 1521.1,1310.8 1521.6,1289.7 1522.2,1313.7 1522.8,1292.1 1523.4,1305.9 1524.0,1317.1 1524.5,1297.6 1525.1,1299.1 1525.7,1290.6 1526.3,1292.9 1526.9,1306.1 1527.4,1305.4 1528.0,1301.3 1528.6,1306.4 1529.2,1301.2 1529.8,1298.3 1530.3,1301.3 1530.9,1296.3 1531.5,1289.1 1532.1,1301.9 1532.7,1306.0 1533.2,1310.7 1533.8,1307.1 1534.4,1301.1 1535.0,1297.6 1535.6,1302.1 1536.1,1304.7 1536.7,1302.1 1537.3,1299.1 1537.9,1304.6 1538.5,1287.5 1539.0,1305.9 1539.6,1312.5 1540.2,1293.6 1540.8,1305.2 1541.4,1298.7 1541.9,1296.2 1542.5,1305.0 1543.1,1304.5 1543.7,1299.2 1544.3,1311.0 1544.8,1303.1 1545.4,1288.0 1546.0,1308.7 1546.6,1299.4 1547.2,1308.3 1547.7,1291.7 1548.3,1291.7 1548.9,1294.1 1549.5,1298.5 1550.1,1300.5 1550.6,1290.8 1551.2,1316.4 1551.8,1288.5 1552.4,1291.2 1553.0,1305.9 1553.5,1304.5 1554.1,1301.6 1554.7,1293.9 1555.3,1291.7 1555.9,1304.5 1556.4,1281.6 1557.0,1285.3 1557.6,1288.6 1558.2,1289.0 1558.8,1293.8 1559.3,1287.1 1559.9,1287.6 1560.5,1287.9 1561.1,1282.3 1561.7,1284.9 1562.2,1275.2 1562.8,1275.9 1563.4,1280.9 1564.0,1277.8 1564.6,1283.0 1565.1,1278.4 1565.7,1278.9 1566.3,1282.2 1566.9,1264.1 1567.5,1267.1 1568.0,1271.0 1568.6,1283.3 1569.2,1268.1 1569.8,1281.0 1570.4,1274.7 1570.9,1267.6 1571.5,1267.9 1572.1,1267.3 1572.7,1259.3 1573.3,1269.3 1573.8,1261.1 1574.4,1256.4 1575.0,1250.7 1575.6,1256.1 1576.2,1254.2 1576.7,1254.2 1577.3,1261.6 1577.9,1249.3 1578.5,1239.6 1579.1,1237.7 1579.6,1232.2 1580.2,1232.6 1580.8,1229.0 1581.4,1242.5 1582.0,1219.8 1582.5,1242.9 1583.1,1227.6 1583.7,1221.2 1584.3,1223.5 1584.9,1227.3 1585.4,1226.7 1586.0,1221.6 1586.6,1230.9 1587.2,1213.5 1587.8,1214.7 1588.3,1224.7 1588.9,1209.4 1589.5,1211.5 1590.1,1218.9 1590.7,1217.8 1591.2,1216.1 1591.8,1215.0 1592.4,1208.8 1593.0,1208.8 1593.6,1207.0 1594.1,1204.3 1594.7,1210.3 1595.3,1202.7 1595.9,1208.2 1596.5,1201.3 1597.0,1207.9 1597.6,1182.6 1598.2,1216.4 1598.8,1194.5 1599.4,1199.0 1599.9,1198.5 1600.5,1216.8 1601.1,1192.9 1601.7,1201.9 1602.3,1203.3 1602.8,1223.3 1603.4,1217.3 1604.0,1202.2 1604.6,1207.7 1605.2,1211.8 1605.7,1206.5 1606.3,1223.4 1606.9,1216.8 1607.5,1204.1 1608.1,1217.7 1608.6,1218.0 1609.2,1216.3 1609.8,1222.6 1610.4,1226.9 1611.0,1221.2 1611.5,1219.7 1612.1,1227.6 1612.7,1214.0 1613.3,1234.1 1613.9,1219.0 1614.4,1230.3 1615.0,1229.2 1615.6,1235.2 1616.2,1228.7 1616.8,1236.5 1617.3,1223.6 1617.9,1245.5 1618.5,1240.9 1619.1,1244.7 1619.7,1235.8 1620.2,1242.1 1620.8,1238.7 1621.4,1242.5 1622.0,1236.3 1622.6,1244.2 1623.1,1228.1 1623.7,1254.2 1624.3,1239.4 1624.9,1254.6 1625.5,1258.9 1626.0,1255.2 1626.6,1243.7 1627.2,1254.4 1627.8,1257.9 1628.4,1259.1 1628.9,1257.5 1629.5,1256.0 1630.1,1254.1 1630.7,1255.2 1631.3,1258.9 1631.8,1258.0 1632.4,1257.1 1633.0,1257.5 1633.6,1261.0 1634.2,1257.4 1634.7,1268.2 1635.3,1263.1 1635.9,1271.2 1636.5,1259.2 1637.1,1258.7 1637.6,1261.7 1638.2,1265.1 1638.8,1266.5 1639.4,1273.7 1640.0,1254.1 1640.5,1270.0 1641.1,1258.2 1641.7,1263.4 1642.3,1268.9 1642.9,1271.0 1643.4,1280.0 1644.0,1270.4 1644.6,1280.5 1645.2,1277.1 1645.8,1272.3 1646.3,1280.2 1646.9,1271.8 1647.5,1278.9 1648.1,1288.2 1648.7,1281.0 1649.2,1276.6 1649.8,1273.1 1650.4,1276.1 1651.0,1274.4 1651.6,1290.6 1652.1,1285.0 1652.7,1281.1 1653.3,1283.6 1653.9,1293.9 1654.5,1280.2 1655.0,1280.1 1655.6,1292.6 1656.2,1287.9 1656.8,1277.1 1657.4,1288.2 1657.9,1284.5 1658.5,1283.5 1659.1,1283.2 1659.7,1283.0 1660.3,1287.5 1660.8,1292.3 1661.4,1281.4 1662.0,1290.8 1662.6,1278.8 1663.2,1287.1 1663.7,1295.4 1664.3,1289.6 1664.9,1288.0 1665.5,1300.1 1666.1,1294.7 1666.6,1293.5 1667.2,1295.7 1667.8,1284.3 1668.4,1291.1 1669.0,1304.7 1669.5,1298.6 1670.1,1304.7 1670.7,1289.1 1671.3,1292.8 1671.9,1300.9 1672.4,1301.7 1673.0,1284.0 1673.6,1297.3 1674.2,1295.8 1674.8,1293.8 1675.3,1300.5 1675.9,1292.8 1676.5,1300.8 1677.1,1302.4 1677.7,1295.3 1678.2,1299.3 1678.8,1284.8 1679.4,1302.7 1680.0,1299.9 1680.6,1289.7 1681.1,1289.9 1681.7,1300.2 1682.3,1314.4 1682.9,1302.8 1683.5,1295.0 1684.0,1300.5 1684.6,1289.8 1685.2,1299.0 1685.8,1298.2 1686.4,1304.2 1686.9,1311.1 1687.5,1302.2 1688.1,1316.6 1688.7,1304.3 1689.3,1306.6 1689.8,1304.1 1690.4,1299.1 1691.0,1301.6 1691.6,1303.3 1692.2,1315.6 1692.7,1305.6 1693.3,1298.0 1693.9,1309.0 1694.5,1309.4 1695.1,1301.0 1695.6,1310.5 1696.2,1309.5 1696.8,1300.5 1697.4,1314.4 1698.0,1300.5 1698.5,1304.0 1699.1,1313.4 1699.7,1300.1 1700.3,1294.1 1700.9,1306.3 1701.4,1311.3 1702.0,1310.6 1702.6,1308.0 1703.2,1302.7 1703.8,1317.8 1704.3,1317.0 1704.9,1312.6 1705.5,1314.6 1706.1,1300.7 1706.7,1316.1 1707.2,1320.4 1707.8,1317.2 1708.4,1317.9 1709.0,1313.9 1709.6,1313.6 1710.1,1299.1 1710.7,1309.4 1711.3,1314.0 1711.9,1306.8 1712.5,1303.4 1713.0,1310.2 1713.6,1307.1 1714.2,1320.1 1714.8,1310.3 1715.4,1311.7 1715.9,1320.8 1716.5,1306.0 1717.1,1314.2 1717.7,1322.0 1718.3,1307.0 1718.8,1309.8 1719.4,1318.3 1720.0,1317.7 1720.6,1308.6 1721.2,1308.8 1721.7,1308.6 1722.3,1307.0 1722.9,1316.2 1723.5,1310.0 1724.1,1307.3 1724.6,1307.2 1725.2,1317.0 1725.8,1294.6 1726.4,1309.1 1727.0,1313.2 1727.5,1307.5 1728.1,1305.7 1728.7,1314.9 1729.3,1313.2 1729.9,1323.7 1730.4,1307.8 1731.0,1314.3 1731.6,1305.4 1732.2,1319.2 1732.8,1317.9 1733.3,1315.7 1733.9,1318.2 1734.5,1316.2 1735.1,1314.6 1735.7,1311.9 1736.2,1317.5 1736.8,1315.2 1737.4,1309.8 1738.0,1311.4 1738.6,1312.7 1739.1,1320.6 1739.7,1311.7 1740.3,1310.4 1740.9,1303.3 1741.5,1315.6 1742.0,1312.1 1742.6,1311.4 1743.2,1311.2 1743.8,1313.1 1744.4,1299.7 1744.9,1303.7 1745.5,1307.3 1746.1,1313.4 1746.7,1311.0 1747.3,1313.4 1747.8,1309.8 1748.4,1311.1 1749.0,1302.9 1749.6,1303.5 1750.2,1305.1 1750.7,1304.5 1751.3,1309.8 1751.9,1305.5 1752.5,1305.3 1753.1,1304.4 1753.6,1312.9 1754.2,1301.2 1754.8,1307.4 1755.4,1299.9 1756.0,1304.8 1756.5,1304.4 1757.1,1300.5 1757.7,1295.2 1758.3,1302.9 1758.9,1301.6 1759.4,1298.3 1760.0,1298.4 1760.6,1296.9 1761.2,1312.4 1761.8,1295.0 1762.3,1287.8 1762.9,1286.7 1763.5,1300.3 1764.1,1284.7 1764.7,1298.4 1765.2,1291.2 1765.8,1295.0 1766.4,1293.1 1767.0,1297.9 1767.6,1288.9 1768.1,1290.5 1768.7,1285.0 1769.3,1276.5 1769.9,1296.4 1770.5,1279.4 1771.0,1290.3 1771.6,1292.1 1772.2,1287.7 1772.8,1278.8 1773.4,1293.8 1773.9,1275.5 1774.5,1288.1 1775.1,1288.9 1775.7,1272.3 1776.3,1284.1 1776.8,1273.7 1777.4,1281.8 1778.0,1265.3 1778.6,1288.9 1779.2,1281.6 1779.7,1277.0 1780.3,1273.9 1780.9,1285.7 1781.5,1279.0 1782.1,1278.2 1782.6,1272.8 1783.2,1273.2 1783.8,1274.4 1784.4,1269.4 1785.0,1276.2 1785.5,1286.6 1786.1,1278.2 1786.7,1280.0 1787.3,1277.6 1787.9,1290.0 1788.4,1270.9 1789.0,1261.8 1789.6,1254.0 1790.2,1270.6 1790.8,1275.8 1791.3,1281.0 1791.9,1263.8 1792.5,1269.9 1793.1,1283.8 1793.7,1262.6 1794.2,1267.0 1794.8,1271.0 1795.4,1266.0 1796.0,1272.8 1796.6,1259.8 1797.1,1268.0 1797.7,1268.5 1798.3,1279.3 1798.9,1276.1 1799.5,1276.5 1800.0,1265.3 1800.6,1281.1 1801.2,1271.3 1801.8,1281.4 1802.4,1261.8 1802.9,1264.8 1803.5,1268.1 1804.1,1282.4 1804.7,1265.6 1805.3,1272.5 1805.8,1269.8 1806.4,1279.3 1807.0,1272.3 1807.6,1284.7 1808.2,1267.2 1808.7,1288.3 1809.3,1274.1 1809.9,1265.9 1810.5,1279.3 1811.1,1274.0 1811.6,1268.7 1812.2,1284.0 1812.8,1271.9 1813.4,1267.4 1814.0,1277.7 1814.5,1281.1 1815.1,1281.0 1815.7,1266.9 1816.3,1287.6 1816.9,1279.1 1817.4,1281.9 1818.0,1271.3 1818.6,1273.7 1819.2,1276.0 1819.8,1280.4 1820.3,1295.1 1820.9,1283.0 1821.5,1283.1 1822.1,1291.8 1822.7,1293.7 1823.2,1290.0 1823.8,1282.1 1824.4,1274.9 1825.0,1271.5 1825.6,1284.3 1826.1,1282.6 1826.7,1293.1 1827.3,1300.9 1827.9,1286.0 1828.5,1287.9 1829.0,1290.1 1829.6,1278.3 1830.2,1291.3 1830.8,1297.8 1831.4,1310.1 1831.9,1284.1 1832.5,1299.3 1833.1,1304.7 1833.7,1287.7 1834.3,1294.2 1834.8,1305.0 1835.4,1292.6 1836.0,1295.1 1836.6,1299.5 1837.2,1306.5 1837.7,1301.5 1838.3,1296.2 1838.9,1304.0 1839.5,1294.0 1840.1,1291.9 1840.6,1298.7 1841.2,1299.9 1841.8,1302.4 1842.4,1303.2 1843.0,1298.8 1843.5,1290.2 1844.1,1291.2 1844.7,1300.5 1845.3,1308.1 1845.9,1297.5 1846.4,1300.0 1847.0,1307.9 1847.6,1295.9 1848.2,1308.9 1848.8,1301.4 1849.3,1301.4 1849.9,1309.0 1850.5,1301.2 1851.1,1311.7 1851.7,1298.7 1852.2,1300.4 1852.8,1302.9 1853.4,1310.8 1854.0,1300.2 1854.6,1308.3 1855.1,1309.3 1855.7,1314.0 1856.3,1303.4 1856.9,1309.8 1857.5,1313.1 1858.0,1320.1 1858.6,1307.8 1859.2,1310.9 1859.8,1309.3 1860.4,1287.4 1860.9,1309.1 1861.5,1307.6 1862.1,1301.2 1862.7,1303.1 1863.3,1307.6 1863.8,1309.5 1864.4,1308.6 1865.0,1306.0 1865.6,1309.7 1866.2,1315.3 1866.7,1308.9 1867.3,1318.0 1867.9,1320.0 1868.5,1317.1 1869.1,1307.7 1869.6,1309.6 1870.2,1294.2 1870.8,1309.3 1871.4,1308.5 1872.0,1305.4 1872.5,1296.2 1873.1,1316.2 1873.7,1317.9 1874.3,1310.0 1874.9,1316.9 1875.4,1309.5 1876.0,1299.2 1876.6,1311.5 1877.2,1309.3 1877.8,1310.7 1878.3,1311.9 1878.9,1305.9 1879.5,1302.9 1880.1,1319.8 1880.7,1314.3 1881.2,1316.4 1881.8,1306.9 1882.4,1297.7 1883.0,1305.0 1883.6,1322.5 1884.1,1318.1 1884.7,1302.2 1885.3,1310.6 1885.9,1307.6 1886.5,1315.8 1887.0,1327.0 1887.6,1312.2 1888.2,1318.7 1888.8,1315.2 1889.4,1313.3 1889.9,1309.9 1890.5,1312.2 1891.1,1320.0 1891.7,1319.2 1892.3,1320.9 1892.8,1311.4 1893.4,1311.9 1894.0,1317.0 1894.6,1314.9 1895.2,1310.2 1895.7,1312.4 1896.3,1325.5 1896.9,1314.3 1897.5,1318.6 1898.1,1320.8 1898.6,1314.0 1899.2,1325.8 1899.8,1316.4 1900.4,1319.4 1901.0,1311.6 1901.5,1318.5 1902.1,1313.5 1902.7,1317.5 1903.3,1309.6 1903.9,1309.5 1904.4,1312.3 1905.0,1317.4 1905.6,1304.3 1906.2,1312.8 1906.8,1311.7 1907.3,1318.8 1907.9,1297.5 1908.5,1302.2 1909.1,1316.3 1909.7,1313.4 1910.2,1314.3 1910.8,1311.0 1911.4,1312.7 1912.0,1313.3 1912.6,1315.9 1913.1,1301.9 1913.7,1304.6 1914.3,1316.4 1914.9,1316.1 1915.5,1303.0 1916.0,1319.5 1916.6,1311.9 1917.2,1313.9 1917.8,1306.5 1918.4,1302.3 1918.9,1307.5 1919.5,1306.6 1920.1,1299.7 1920.7,1306.9 1921.3,1306.2 1921.8,1295.2 1922.4,1300.1 1923.0,1304.0 1923.6,1299.4 1924.2,1308.2 1924.7,1310.9 1925.3,1296.5 1925.9,1304.0 1926.5,1304.6 1927.1,1307.1 1927.6,1291.5 1928.2,1294.3 1928.8,1302.4 1929.4,1306.7 1930.0,1300.9 1930.5,1293.1 1931.1,1300.9 1931.7,1292.7 1932.3,1287.6 1932.9,1297.1 1933.4,1301.5 1934.0,1301.5 1934.6,1295.9 1935.2,1289.3 1935.8,1285.9 1936.3,1297.1 1936.9,1286.1 1937.5,1293.4 1938.1,1293.5 1938.7,1286.2 1939.2,1288.7 1939.8,1288.9 1940.4,1293.3 1941.0,1283.9 1941.6,1286.7 1942.1,1288.2 1942.7,1278.5 1943.3,1282.4 1943.9,1281.6 1944.5,1285.3 1945.0,1276.3 1945.6,1282.6 1946.2,1284.2 1946.8,1290.6 1947.4,1281.3 1947.9,1290.4 1948.5,1282.7 1949.1,1283.7 1949.7,1274.0 1950.3,1274.1 1950.8,1280.3 1951.4,1272.5 1952.0,1286.1 1952.6,1276.1 1953.2,1291.4 1953.7,1269.8 1954.3,1276.8 1954.9,1275.4 1955.5,1272.4 1956.1,1273.2 1956.6,1256.1 1957.2,1269.7 1957.8,1275.7 1958.4,1267.7 1959.0,1258.9 1959.5,1264.6 1960.1,1267.1 1960.7,1272.7 1961.3,1262.0 1961.9,1274.2 1962.4,1261.3 1963.0,1273.1 1963.6,1268.3 1964.2,1282.5 1964.8,1271.5 1965.3,1275.6 1965.9,1265.4 1966.5,1254.8 1967.1,1268.4 1967.7,1269.1 1968.2,1264.3 1968.8,1269.2 1969.4,1257.4 1970.0,1268.4 1970.6,1266.5 1971.1,1280.4 1971.7,1271.8 1972.3,1272.4 1972.9,1272.5 1973.5,1260.2 1974.0,1266.8 1974.6,1281.9 1975.2,1278.1 1975.8,1265.8 1976.4,1276.9 1976.9,1273.3 1977.5,1279.4 1978.1,1277.9 1978.7,1277.7 1979.3,1270.0 1979.8,1277.2 1980.4,1274.6 1981.0,1279.0 1981.6,1287.2 1982.2,1284.7 1982.7,1286.5 1983.3,1288.7 1983.9,1277.3 1984.5,1283.6 1985.1,1292.4 1985.6,1294.4 1986.2,1273.6 1986.8,1281.5 1987.4,1291.1 1988.0,1308.5 1988.5,1285.6 1989.1,1289.7 1989.7,1292.6 1990.3,1297.4 1990.9,1284.0 1991.4,1289.4 1992.0,1291.0 1992.6,1290.4 1993.2,1291.9 1993.8,1299.1 1994.3,1304.4 1994.9,1301.0 1995.5,1299.4 1996.1,1298.2 1996.7,1294.9 1997.2,1292.0 1997.8,1292.7 1998.4,1307.7 1999.0,1308.7 1999.6,1305.2 2000.1,1304.3 2000.7,1303.1 2001.3,1306.2 2001.9,1301.3 2002.5,1298.6 2003.0,1296.2 2003.6,1305.9 2004.2,1299.7 2004.8,1294.5 2005.4,1303.9 2005.9,1301.7 2006.5,1312.1 2007.1,1316.6 2007.7,1311.9 2008.3,1314.0 2008.8,1321.1 2009.4,1301.7 2010.0,1302.4 2010.6,1310.4 2011.2,1308.4 2011.7,1312.6 2012.3,1318.4 2012.9,1311.6 2013.5,1301.4 2014.1,1329.6 2014.6,1306.4 2015.2,1305.3 2015.8,1320.1 2016.4,1303.5 2017.0,1306.9 2017.5,1314.5 2018.1,1309.7 2018.7,1315.9 2019.3,1322.1 2019.9,1316.1 2020.4,1313.4 2021.0,1319.3 2021.6,1318.2 2022.2,1334.1 2022.8,1310.8 2023.3,1324.8 2023.9,1315.4 2024.5,1319.7 2025.1,1305.0 2025.7,1310.7 2026.2,1309.9 2026.8,1307.0 2027.4,1313.8 2028.0,1327.1 2028.6,1307.7 2029.1,1326.4 2029.7,1317.0 2030.3,1318.0 2030.9,1309.4 2031.5,1319.3 2032.0,1327.1 2032.6,1314.7 2033.2,1318.9 2033.8,1318.4 2034.4,1316.0 2034.9,1312.5 2035.5,1325.9 2036.1,1323.7 2036.7,1314.7 2037.3,1326.3 2037.8,1313.7 2038.4,1319.6 2039.0,1309.4 2039.6,1307.4 2040.2,1316.2 2040.7,1330.2 2041.3,1320.4 2041.9,1326.5 2042.5,1330.6 2043.1,1322.1 2043.6,1315.1 2044.2,1320.8 2044.8,1317.1 2045.4,1323.5 2046.0,1316.9 2046.5,1328.9 2047.1,1327.3 2047.7,1321.9 2048.3,1321.2 2048.9,1323.5 2049.4,1320.2 2050.0,1321.7 2050.6,1326.4 2051.2,1316.3 2051.8,1317.9 2052.3,1319.0 2052.9,1306.6 2053.5,1328.3 2054.1,1318.1 2054.7,1329.1 2055.2,1307.5 2055.8,1306.8 2056.4,1317.4 2057.0,1320.0 2057.6,1325.5 2058.1,1324.5 2058.7,1327.8 2059.3,1319.9 2059.9,1335.0 2060.5,1324.6 2061.0,1308.5 2061.6,1314.3 2062.2,1314.2 2062.8,1318.6 2063.4,1315.0 2063.9,1320.9 2064.5,1327.1 2065.1,1309.8 2065.7,1315.4 2066.3,1330.4 2066.8,1330.3 2067.4,1331.0 2068.0,1321.1 2068.6,1327.3 2069.2,1322.1 2069.7,1309.1 2070.3,1315.2 2070.9,1323.8 2071.5,1320.0 2072.1,1313.6 2072.6,1313.0 2073.2,1321.9 2073.8,1320.8 2074.4,1315.8 2075.0,1328.9 2075.5,1316.3 2076.1,1316.4 2076.7,1319.5 2077.3,1318.8 2077.9,1318.5 2078.4,1306.9 2079.0,1334.4 2079.6,1323.2 2080.2,1321.8 2080.8,1315.8 2081.3,1318.7 2081.9,1322.5 2082.5,1315.7 2083.1,1324.8 2083.7,1323.9 2084.2,1317.9 2084.8,1315.3 2085.4,1324.6 2086.0,1334.4 2086.6,1321.6 2087.1,1326.3 2087.7,1319.4 2088.3,1315.3 2088.9,1327.5 2089.5,1318.5 2090.0,1334.0 2090.6,1316.6 2091.2,1311.2 2091.8,1322.5 2092.0,1325.8"/>
<polyline fill="none" stroke="#f00" stroke-width="3.2" stroke-linejoin="miter" stroke-miterlimit="2" points="355.0,902.2 355.2,912.4 355.8,914.6 356.4,905.7 357.0,909.7 357.5,910.4 358.1,920.4 358.7,918.1 359.3,925.9 359.9,909.1 360.4,935.7 361.0,925.4 361.6,932.9 362.2,928.6 362.8,928.4 363.3,936.2 363.9,940.4 364.5,934.2 365.1,936.1 365.7,943.7 366.2,933.4 366.8,929.7 367.4,945.4 368.0,938.5 368.6,930.1 369.1,939.7 369.7,943.4 370.3,938.9 370.9,937.7 371.5,950.5 372.0,958.1 372.6,950.6 373.2,947.8 373.8,957.5 374.4,961.2 374.9,954.6 375.5,962.2 376.1,967.2 376.7,958.9 377.3,955.5 377.8,965.5 378.4,966.0 379.0,973.7 379.6,956.9 380.2,962.8 380.7,962.7 381.3,957.2 381.9,972.5 382.5,976.8 383.1,968.4 383.6,985.7 384.2,982.7 384.8,982.5 385.4,982.1 386.0,987.5 386.5,971.5 387.1,987.5 387.7,988.6 388.3,972.0 388.9,989.2 389.4,986.0 390.0,995.0 390.6,987.2 391.2,991.7 391.8,995.8 392.3,988.0 392.9,1000.5 393.5,996.6 394.1,1002.5 394.7,996.3 395.2,1009.7 395.8,1007.5 396.4,1002.8 397.0,1010.2 397.6,1016.2 398.1,1021.4 398.7,996.8 399.3,1016.6 399.9,1014.4 400.5,1010.9 401.0,1004.7 401.6,1023.1 402.2,1004.2 402.8,1019.2 403.4,1025.7 403.9,1003.7 404.5,1014.5 405.1,1007.2 405.7,1020.1 406.3,1030.7 406.8,1035.3 407.4,1006.1 408.0,1016.1 408.6,1026.8 409.2,1034.4 409.7,1025.9 410.3,1017.4 410.9,1026.3 411.5,1024.5 412.1,1023.8 412.6,1020.4 413.2,1029.9 413.8,1030.1 414.4,1027.9 415.0,1027.8 415.5,1020.6 416.1,1027.8 416.7,1041.8 417.3,1032.3 417.9,1023.9 418.4,1046.2 419.0,1041.2 419.6,1054.4 420.2,1039.9 420.8,1037.0 421.3,1030.5 421.9,1052.8 422.5,1063.4 423.1,1038.1 423.7,1040.3 424.2,1050.7 424.8,1040.2 425.4,1045.3 426.0,1045.3 426.6,1050.1 427.1,1057.9 427.7,1050.0 428.3,1057.6 428.9,1047.6 429.5,1054.0 430.0,1034.9 430.6,1040.9 431.2,1059.2 431.8,1048.7 432.4,1058.4 432.9,1058.6 433.5,1065.2 434.1,1061.6 434.7,1063.7 435.3,1055.1 435.8,1050.9 436.4,1051.1 437.0,1053.5 437.6,1048.8 438.2,1053.9 438.7,1057.9 439.3,1061.1 439.9,1056.9 440.5,1044.8 441.1,1060.0 441.6,1062.8 442.2,1070.2 442.8,1066.7 443.4,1057.5 444.0,1057.4 444.5,1079.6 445.1,1070.2 445.7,1079.2 446.3,1082.1 446.9,1059.3 447.4,1069.4 448.0,1070.5 448.6,1072.0 449.2,1072.5 449.8,1070.5 450.3,1071.0 450.9,1058.7 451.5,1070.0 452.1,1066.4 452.7,1074.2 453.2,1071.1 453.8,1080.6 454.4,1083.6 455.0,1081.0 455.6,1082.0 456.1,1080.7 456.7,1076.2 457.3,1077.2 457.9,1072.7 458.5,1076.3 459.0,1070.8 459.6,1071.8 460.2,1056.0 460.8,1068.0 461.4,1053.5 461.9,1050.2 462.5,1050.3 463.1,1044.7 463.7,1048.1 464.3,1039.9 464.8,1034.4 465.4,1034.3 466.0,1048.8 466.6,1037.9 467.2,1027.5 467.7,1035.0 468.3,1021.9 468.9,1045.9 469.5,1019.6 470.1,1033.5 470.6,1032.7 471.2,1016.4 471.8,1028.5 472.4,1032.6 473.0,1027.5 473.5,1024.8 474.1,1028.9 474.7,1021.8 475.3,1022.0 475.9,1017.3 476.4,1022.0 477.0,1008.9 477.6,1021.4 478.2,1010.5 478.8,1005.0 479.3,1015.1 479.9,1023.7 480.5,1016.6 481.1,1004.0 481.7,1009.9 482.2,998.8 482.8,996.5 483.4,992.3 484.0,973.4 484.6,975.0 485.1,957.3 485.7,944.3 486.3,931.5 486.9,920.2 487.5,909.4 488.0,899.1 488.6,886.5 489.2,870.3 489.8,859.0 490.4,844.2 490.9,828.7 491.5,817.5 492.1,801.8 492.7,781.7 493.3,758.0 493.8,730.9 494.4,702.6 495.0,677.6 495.6,655.4 496.2,630.7 496.7,603.2 497.3,577.0 497.9,545.5 498.5,501.5 499.1,430.8 499.6,392.0 500.2,360.9 500.8,336.5 501.4,313.9 502.0,296.2 502.5,279.1 503.1,259.6 503.7,240.9 504.3,227.8 504.9,216.5 505.4,205.8 506.0,197.9 506.6,198.4 507.2,188.7 507.8,189.9 508.3,185.7 508.9,179.2 509.5,183.5 510.1,183.1 510.7,184.2 511.2,193.0 511.8,197.1 512.4,200.4 513.0,208.8 513.6,217.4 514.1,226.5 514.7,236.8 515.3,251.1 515.9,273.0 516.5,305.2 517.0,356.2 517.6,507.9 518.2,537.1 518.8,554.8 519.4,563.4 519.9,574.3 520.5,591.7 521.1,614.7 521.7,650.5 522.3,691.8 522.8,728.2 523.4,754.5 524.0,771.3 524.6,787.9 525.2,798.2 525.7,814.8 526.3,823.5 526.9,833.8 527.5,849.2 528.1,863.6 528.6,879.4 529.2,891.9 529.8,907.4 530.4,925.4 531.0,927.1 531.5,936.6 532.1,940.3 532.7,945.8 533.3,945.9 533.9,952.1 534.4,960.1 535.0,963.3 535.6,978.2 536.2,968.0 536.8,978.1 537.3,999.7 537.9,982.4 538.5,987.3 539.1,998.4 539.7,1004.4 540.2,1015.7 540.8,1017.5 541.4,1017.8 542.0,1028.7 542.6,1048.6 543.1,1045.1 543.7,1023.9 544.3,1044.7 544.9,1043.1 545.5,1056.3 546.0,1053.5 546.6,1070.8 547.2,1066.1 547.8,1068.0 548.4,1065.1 548.9,1065.5 549.5,1070.1 550.1,1079.0 550.7,1075.2 551.3,1070.5 551.8,1084.2 552.4,1078.1 553.0,1078.1 553.6,1074.8 554.2,1078.3 554.7,1079.7 555.3,1065.9 555.9,1095.5 556.5,1094.0 557.1,1090.3 557.6,1101.4 558.2,1099.1 558.8,1100.7 559.4,1082.4 560.0,1100.5 560.5,1108.0 561.1,1117.8 561.7,1121.4 562.3,1120.1 562.9,1102.1 563.4,1095.3 564.0,1117.5 564.6,1114.3 565.2,1122.4 565.8,1114.9 566.3,1118.4 566.9,1105.7 567.5,1121.6 568.1,1115.3 568.7,1122.2 569.2,1123.7 569.8,1119.8 570.4,1123.8 571.0,1121.8 571.6,1128.5 572.1,1127.1 572.7,1119.5 573.3,1119.9 573.9,1138.9 574.5,1125.2 575.0,1134.4 575.6,1130.6 576.2,1124.0 576.8,1123.4 577.4,1131.0 577.9,1132.9 578.5,1136.6 579.1,1122.9 579.7,1129.0 580.3,1133.7 580.8,1147.7 581.4,1117.8 582.0,1140.3 582.6,1133.5 583.2,1141.8 583.7,1135.2 584.3,1142.6 584.9,1152.7 585.5,1143.7 586.1,1144.8 586.6,1144.8 587.2,1136.3 587.8,1147.0 588.4,1141.4 589.0,1136.9 589.5,1143.5 590.1,1142.3 590.7,1150.5 591.3,1144.4 591.9,1140.9 592.4,1157.1 593.0,1153.7 593.6,1156.3 594.2,1151.3 594.8,1145.9 595.3,1143.7 595.9,1145.2 596.5,1155.4 597.1,1149.2 597.7,1136.9 598.2,1148.9 598.8,1138.5 599.4,1151.5 600.0,1141.2 600.6,1141.3 601.1,1152.8 601.7,1151.8 602.3,1139.8 602.9,1159.4 603.5,1171.1 604.0,1142.7 604.6,1169.4 605.2,1149.9 605.8,1151.9 606.4,1154.8 606.9,1144.9 607.5,1167.3 608.1,1161.1 608.7,1151.2 609.3,1155.3 609.8,1145.4 610.4,1155.1 611.0,1165.7 611.6,1144.3 612.2,1154.9 612.7,1159.8 613.3,1167.2 613.9,1169.8 614.5,1155.3 615.1,1153.1 615.6,1162.9 616.2,1156.4 616.8,1157.0 617.4,1168.4 618.0,1173.5 618.5,1162.1 619.1,1158.5 619.7,1164.8 620.3,1144.9 620.9,1160.2 621.4,1151.9 622.0,1180.1 622.6,1166.6 623.2,1162.0 623.8,1159.3 624.3,1140.5 624.9,1166.9 625.5,1174.5 626.1,1155.4 626.7,1167.0 627.2,1167.4 627.8,1149.0 628.4,1169.3 629.0,1172.9 629.6,1163.8 630.1,1161.5 630.7,1168.6 631.3,1149.7 631.9,1163.1 632.5,1171.1 633.0,1152.6 633.6,1170.9 634.2,1159.5 634.8,1146.2 635.4,1162.4 635.9,1155.4 636.5,1166.1 637.1,1154.0 637.7,1172.3 638.3,1157.8 638.8,1166.8 639.4,1159.1 640.0,1161.3 640.6,1173.8 641.2,1165.8 641.7,1160.8 642.3,1153.7 642.9,1173.5 643.5,1170.0 644.1,1161.3 644.6,1166.0 645.2,1155.5 645.8,1155.7 646.4,1157.2 647.0,1166.9 647.5,1166.4 648.1,1157.9 648.7,1170.1 649.3,1170.4 649.9,1165.4 650.4,1172.5 651.0,1161.6 651.6,1163.1 652.2,1167.9 652.8,1163.7 653.3,1170.5 653.9,1153.7 654.5,1175.7 655.1,1157.6 655.7,1162.6 656.2,1152.7 656.8,1168.9 657.4,1174.5 658.0,1172.8 658.6,1170.8 659.1,1151.2 659.7,1157.6 660.3,1160.2 660.9,1156.3 661.5,1173.2 662.0,1165.6 662.6,1164.0 663.2,1168.3 663.8,1157.0 664.4,1157.6 664.9,1158.2 665.5,1169.6 666.1,1168.8 666.7,1171.0 667.3,1175.4 667.8,1156.3 668.4,1163.0 669.0,1169.0 669.6,1157.3 670.2,1164.1 670.7,1176.8 671.3,1177.8 671.9,1177.8 672.5,1169.7 673.1,1167.8 673.6,1178.5 674.2,1167.0 674.8,1172.9 675.4,1181.1 676.0,1167.7 676.5,1166.0 677.1,1171.1 677.7,1176.3 678.3,1175.7 678.9,1173.4 679.4,1177.0 680.0,1160.2 680.6,1166.6 681.2,1175.2 681.8,1167.1 682.3,1164.4 682.9,1166.0 683.5,1168.8 684.1,1175.2 684.7,1169.1 685.2,1179.6 685.8,1191.6 686.4,1177.6 687.0,1189.3 687.6,1182.0 688.1,1171.4 688.7,1178.6 689.3,1173.3 689.9,1187.5 690.5,1172.8 691.0,1192.6 691.6,1187.2 692.2,1167.1 692.8,1189.6 693.4,1196.0 693.9,1177.9 694.5,1192.2 695.1,1170.7 695.7,1187.2 696.3,1172.4 696.8,1189.6 697.4,1172.1 698.0,1165.7 698.6,1189.9 699.2,1205.0 699.7,1182.8 700.3,1194.3 700.9,1189.0 701.5,1185.9 702.1,1193.5 702.6,1201.9 703.2,1179.5 703.8,1193.9 704.4,1192.4 705.0,1178.5 705.5,1202.7 706.1,1205.5 706.7,1182.4 707.3,1203.7 707.9,1190.3 708.4,1188.4 709.0,1201.3 709.6,1191.0 710.2,1191.5 710.8,1200.6 711.3,1198.5 711.9,1195.1 712.5,1176.8 713.1,1175.1 713.7,1195.9 714.2,1179.5 714.8,1187.6 715.4,1177.7 716.0,1184.5 716.6,1175.6 717.1,1198.2 717.7,1177.0 718.3,1183.8 718.9,1183.0 719.5,1193.7 720.0,1172.7 720.6,1183.3 721.2,1181.7 721.8,1187.2 722.4,1186.5 722.9,1178.9 723.5,1184.3 724.1,1179.2 724.7,1185.8 725.3,1181.1 725.8,1176.6 726.4,1181.5 727.0,1184.6 727.6,1199.8 728.2,1177.5 728.7,1183.9 729.3,1193.1 729.9,1164.5 730.5,1167.2 731.1,1171.6 731.6,1180.2 732.2,1200.8 732.8,1184.2 733.4,1190.8 734.0,1179.2 734.5,1161.2 735.1,1162.9 735.7,1189.6 736.3,1183.7 736.9,1173.1 737.4,1192.4 738.0,1173.5 738.6,1194.5 739.2,1198.0 739.8,1183.0 740.3,1181.8 740.9,1197.4 741.5,1184.6 742.1,1200.2 742.7,1186.4 743.2,1202.2 743.8,1198.1 744.4,1195.5 745.0,1193.6 745.6,1203.1 746.1,1189.5 746.7,1202.5 747.3,1203.3 747.9,1212.3 748.5,1200.3 749.0,1222.6 749.6,1209.6 750.2,1204.9 750.8,1224.1 751.4,1227.0 751.9,1214.1 752.5,1209.2 753.1,1216.1 753.7,1210.7 754.3,1213.2 754.8,1226.6 755.4,1217.4 756.0,1214.9 756.6,1215.7 757.2,1211.9 757.7,1217.7 758.3,1217.1 758.9,1207.2 759.5,1209.9 760.1,1226.4 760.6,1211.1 761.2,1206.0 761.8,1222.8 762.4,1207.0 763.0,1198.4 763.5,1212.0 764.1,1199.7 764.7,1202.7 765.3,1209.0 765.9,1205.4 766.4,1200.4 767.0,1202.0 767.6,1201.6 768.2,1215.2 768.8,1200.5 769.3,1201.6 769.9,1221.9 770.5,1201.7 771.1,1217.6 771.7,1216.2 772.2,1204.9 772.8,1195.4 773.4,1210.0 774.0,1212.0 774.6,1214.6 775.1,1208.2 775.7,1217.2 776.3,1219.0 776.9,1201.2 777.5,1220.3 778.0,1211.3 778.6,1206.0 779.2,1208.2 779.8,1225.1 780.4,1218.5 780.9,1197.2 781.5,1211.6 782.1,1209.9 782.7,1209.6 783.3,1207.0 783.8,1199.7 784.4,1217.5 785.0,1203.6 785.6,1207.9 786.2,1206.0 786.7,1205.0 787.3,1216.2 787.9,1213.3 788.5,1205.1 789.1,1202.9 789.6,1206.5 790.2,1217.3 790.8,1210.6 791.4,1211.0 792.0,1206.3 792.5,1206.2 793.1,1208.9 793.7,1193.0 794.3,1217.4 794.9,1198.9 795.4,1199.5 796.0,1212.4 796.6,1203.2 797.2,1200.9 797.8,1195.3 798.3,1187.0 798.9,1199.1 799.5,1205.8 800.1,1189.3 800.7,1205.3 801.2,1185.8 801.8,1187.8 802.4,1196.1 803.0,1191.3 803.6,1195.6 804.1,1183.9 804.7,1180.8 805.3,1173.5 805.9,1177.7 806.5,1177.9 807.0,1174.4 807.6,1187.2 808.2,1179.2 808.8,1168.3 809.4,1203.2 809.9,1176.7 810.5,1173.0 811.1,1192.4 811.7,1191.5 812.3,1172.9 812.8,1170.0 813.4,1173.5 814.0,1190.2 814.6,1178.5 815.2,1174.4 815.7,1180.5 816.3,1190.2 816.9,1169.3 817.5,1177.3 818.1,1169.2 818.6,1197.9 819.2,1195.2 819.8,1188.6 820.4,1180.6 821.0,1187.3 821.5,1166.6 822.1,1185.7 822.7,1174.0 823.3,1174.8 823.9,1180.2 824.4,1183.6 825.0,1191.3 825.6,1192.8 826.2,1189.8 826.8,1180.4 827.3,1193.4 827.9,1186.9 828.5,1196.7 829.1,1180.0 829.7,1165.3 830.2,1181.9 830.8,1200.8 831.4,1187.1 832.0,1181.0 832.6,1187.9 833.1,1183.8 833.7,1182.2 834.3,1173.7 834.9,1176.9 835.5,1176.6 836.0,1169.1 836.6,1164.4 837.2,1173.0 837.8,1178.4 838.4,1174.9 838.9,1172.7 839.5,1171.7 840.1,1186.6 840.7,1167.8 841.3,1172.7 841.8,1178.6 842.4,1163.0 843.0,1163.5 843.6,1168.4 844.2,1172.2 844.7,1160.6 845.3,1159.9 845.9,1156.7 846.5,1145.7 847.1,1162.3 847.6,1150.7 848.2,1138.4 848.8,1149.3 849.4,1136.2 850.0,1140.5 850.5,1147.2 851.1,1138.9 851.7,1152.9 852.3,1132.4 852.9,1144.4 853.4,1145.4 854.0,1151.0 854.6,1145.7 855.2,1139.2 855.8,1136.8 856.3,1134.4 856.9,1142.1 857.5,1127.3 858.1,1134.8 858.7,1128.8 859.2,1129.9 859.8,1124.6 860.4,1140.9 861.0,1118.6 861.6,1123.7 862.1,1122.0 862.7,1122.4 863.3,1119.1 863.9,1116.7 864.5,1118.2 865.0,1098.3 865.6,1106.5 866.2,1095.3 866.8,1103.2 867.4,1090.8 867.9,1090.0 868.5,1094.3 869.1,1102.8 869.7,1094.9 870.3,1090.7 870.8,1096.4 871.4,1077.4 872.0,1067.0 872.6,1076.7 873.2,1075.7 873.7,1084.9 874.3,1090.0 874.9,1062.7 875.5,1090.5 876.1,1082.9 876.6,1077.0 877.2,1073.1 877.8,1089.7 878.4,1071.8 879.0,1068.5 879.5,1074.4 880.1,1064.7 880.7,1080.0 881.3,1077.5 881.9,1082.5 882.4,1084.7 883.0,1076.3 883.6,1095.4 884.2,1080.3 884.8,1096.0 885.3,1080.4 885.9,1096.7 886.5,1090.7 887.1,1099.3 887.7,1097.1 888.2,1089.1 888.8,1099.2 889.4,1110.0 890.0,1116.5 890.6,1104.4 891.1,1102.1 891.7,1113.2 892.3,1120.1 892.9,1119.3 893.5,1120.1 894.0,1134.1 894.6,1137.1 895.2,1137.6 895.8,1127.6 896.4,1137.0 896.9,1137.1 897.5,1130.4 898.1,1149.1 898.7,1145.5 899.3,1143.6 899.8,1159.4 900.4,1157.0 901.0,1159.9 901.6,1164.6 902.2,1163.4 902.7,1151.6 903.3,1160.1 903.9,1172.2 904.5,1161.9 905.1,1169.8 905.6,1174.6 906.2,1184.2 906.8,1185.3 907.4,1184.6 908.0,1179.1 908.5,1189.0 909.1,1188.5 909.7,1185.8 910.3,1198.6 910.9,1194.7 911.4,1188.1 912.0,1204.2 912.6,1195.5 913.2,1203.3 913.8,1190.3 914.3,1202.5 914.9,1197.6 915.5,1198.9 916.1,1193.7 916.7,1223.7 917.2,1208.9 917.8,1213.0 918.4,1220.4 919.0,1212.9 919.6,1218.7 920.1,1206.7 920.7,1218.8 921.3,1215.7 921.9,1223.3 922.5,1222.3 923.0,1212.7 923.6,1210.9 924.2,1218.1 924.8,1231.5 925.4,1230.7 925.9,1231.9 926.5,1216.5 927.1,1212.9 927.7,1228.2 928.3,1231.1 928.8,1229.9 929.4,1237.3 930.0,1233.8 930.6,1226.6 931.2,1229.0 931.7,1236.7 932.3,1236.3 932.9,1235.4 933.5,1252.6 934.1,1234.3 934.6,1237.2 935.2,1229.1 935.8,1233.9 936.4,1240.5 937.0,1240.9 937.5,1235.6 938.1,1239.8 938.7,1237.3 939.3,1223.2 939.9,1213.1 940.4,1254.1 941.0,1243.3 941.6,1236.9 942.2,1224.7 942.8,1228.2 943.3,1247.5 943.9,1217.3 944.5,1235.4 945.1,1244.2 945.7,1239.1 946.2,1243.7 946.8,1237.4 947.4,1255.8 948.0,1231.1 948.6,1228.9 949.1,1240.9 949.7,1249.4 950.3,1238.8 950.9,1247.0 951.5,1235.7 952.0,1231.1 952.6,1250.0 953.2,1251.4 953.8,1251.3 954.4,1237.2 954.9,1232.2 955.5,1232.3 956.1,1239.3 956.7,1245.3 957.3,1244.9 957.8,1231.1 958.4,1243.0 959.0,1241.9 959.6,1242.6 960.2,1242.0 960.7,1240.9 961.3,1246.8 961.9,1243.6 962.5,1244.5 963.1,1238.1 963.6,1246.1 964.2,1242.6 964.8,1228.5 965.4,1247.3 966.0,1242.1 966.5,1250.8 967.1,1243.2 967.7,1243.8 968.3,1246.2 968.9,1244.8 969.4,1241.8 970.0,1232.4 970.6,1258.6 971.2,1234.3 971.8,1243.3 972.3,1250.6 972.9,1248.8 973.5,1250.3 974.1,1251.9 974.7,1255.6 975.2,1248.9 975.8,1267.7 976.4,1240.0 977.0,1249.0 977.6,1245.0 978.1,1243.8 978.7,1250.0 979.3,1258.5 979.9,1243.2 980.5,1243.4 981.0,1253.8 981.6,1252.7 982.2,1262.9 982.8,1256.5 983.4,1251.1 983.9,1247.3 984.5,1251.4 985.1,1248.8 985.7,1240.6 986.3,1250.5 986.8,1249.5 987.4,1249.3 988.0,1248.1 988.6,1263.3 989.2,1256.5 989.7,1258.5 990.3,1247.9 990.9,1245.2 991.5,1250.7 992.1,1254.6 992.6,1250.8 993.2,1252.1 993.8,1260.4 994.4,1256.1 995.0,1247.3 995.5,1251.5 996.1,1250.1 996.7,1256.2 997.3,1247.0 997.9,1254.2 998.4,1260.5 999.0,1256.0 999.6,1249.7 1000.2,1251.9 1000.8,1257.3 1001.3,1260.0 1001.9,1262.6 1002.5,1255.9 1003.1,1247.8 1003.7,1267.1 1004.2,1259.3 1004.8,1260.2 1005.4,1259.6 1006.0,1250.3 1006.6,1255.5 1007.1,1259.6 1007.7,1265.1 1008.3,1258.4 1008.9,1236.2 1009.5,1256.5 1010.0,1260.7 1010.6,1267.4 1011.2,1263.4 1011.8,1275.9 1012.4,1268.5 1012.9,1268.1 1013.5,1265.3 1014.1,1249.1 1014.7,1264.8 1015.3,1263.1 1015.8,1255.3 1016.4,1263.2 1017.0,1262.0 1017.6,1255.9 1018.2,1258.4 1018.7,1257.5 1019.3,1261.0 1019.9,1256.5 1020.5,1263.3 1021.1,1246.2 1021.6,1257.7 1022.2,1247.9 1022.8,1256.4 1023.4,1263.5 1024.0,1260.1 1024.5,1259.2 1025.1,1260.6 1025.7,1271.1 1026.3,1252.5 1026.9,1266.5 1027.4,1249.9 1028.0,1257.2 1028.6,1261.7 1029.2,1254.7 1029.8,1262.2 1030.3,1266.0 1030.9,1252.7 1031.5,1260.6 1032.1,1258.6 1032.7,1247.9 1033.2,1260.2 1033.8,1256.1 1034.4,1271.0 1035.0,1255.9 1035.6,1273.8 1036.1,1258.6 1036.7,1275.8 1037.3,1266.3 1037.9,1265.9 1038.5,1268.5 1039.0,1269.4 1039.6,1273.0 1040.2,1275.5 1040.8,1261.4 1041.4,1255.3 1041.9,1245.8 1042.5,1261.7 1043.1,1269.7 1043.7,1267.3 1044.3,1265.7 1044.8,1262.7 1045.4,1260.9 1046.0,1263.5 1046.6,1268.3 1047.2,1253.8 1047.7,1271.0 1048.3,1256.2 1048.9,1265.3 1049.5,1262.2 1050.1,1264.2 1050.6,1259.7 1051.2,1259.1 1051.8,1265.5 1052.4,1259.8 1053.0,1284.2 1053.5,1264.6 1054.1,1263.0 1054.7,1263.9 1055.3,1260.3 1055.9,1250.9 1056.4,1266.1 1057.0,1270.0 1057.6,1257.6 1058.2,1268.0 1058.8,1259.6 1059.3,1267.7 1059.9,1270.4 1060.5,1271.2 1061.1,1270.8 1061.7,1262.9 1062.2,1273.6 1062.8,1264.4 1063.4,1269.7 1064.0,1272.0 1064.6,1264.9 1065.1,1258.1 1065.7,1270.9 1066.3,1258.8 1066.9,1260.2 1067.5,1258.5 1068.0,1271.6 1068.6,1264.5 1069.2,1250.0 1069.8,1270.3 1070.4,1279.2 1070.9,1277.2 1071.5,1260.7 1072.1,1264.9 1072.7,1267.7 1073.3,1270.1 1073.8,1264.1 1074.4,1256.1 1075.0,1268.7 1075.6,1267.6 1076.2,1254.0 1076.7,1260.5 1077.3,1264.8 1077.9,1262.8 1078.5,1266.4 1079.1,1268.2 1079.6,1266.3 1080.2,1261.7 1080.8,1253.0 1081.4,1266.6 1082.0,1272.0 1082.5,1276.0 1083.1,1261.9 1083.7,1261.8 1084.3,1272.1 1084.9,1272.0 1085.4,1264.3 1086.0,1266.8 1086.6,1256.5 1087.2,1265.8 1087.8,1255.9 1088.3,1260.6 1088.9,1260.6 1089.5,1258.1 1090.1,1246.6 1090.7,1255.5 1091.2,1263.5 1091.8,1260.6 1092.4,1258.2 1093.0,1263.8 1093.6,1265.5 1094.1,1266.5 1094.7,1254.9 1095.3,1260.5 1095.9,1257.9 1096.5,1254.0 1097.0,1249.5 1097.6,1259.1 1098.2,1253.6 1098.8,1274.5 1099.4,1258.6 1099.9,1257.6 1100.5,1256.2 1101.1,1271.8 1101.7,1252.0 1102.3,1257.3 1102.8,1252.8 1103.4,1257.1 1104.0,1257.5 1104.6,1265.2 1105.2,1247.5 1105.7,1257.0 1106.3,1268.1 1106.9,1253.1 1107.5,1255.1 1108.1,1250.0 1108.6,1237.6 1109.2,1254.9 1109.8,1263.5 1110.4,1251.8 1111.0,1241.9 1111.5,1256.3 1112.1,1254.7 1112.7,1260.8 1113.3,1259.8 1113.9,1251.3 1114.4,1255.6 1115.0,1239.9 1115.6,1259.9 1116.2,1253.1 1116.8,1258.9 1117.3,1258.3 1117.9,1248.5 1118.5,1248.9 1119.1,1243.3 1119.7,1234.5 1120.2,1247.3 1120.8,1248.6 1121.4,1239.4 1122.0,1251.0 1122.6,1246.0 1123.1,1247.7 1123.7,1238.5 1124.3,1230.8 1124.9,1247.4 1125.5,1245.4 1126.0,1239.5 1126.6,1236.5 1127.2,1236.5 1127.8,1236.5 1128.4,1233.0 1128.9,1221.6 1129.5,1239.9 1130.1,1223.1 1130.7,1230.2 1131.3,1229.3 1131.8,1232.1 1132.4,1218.0 1133.0,1236.2 1133.6,1231.1 1134.2,1230.5 1134.7,1232.5 1135.3,1216.9 1135.9,1199.3 1136.5,1221.5 1137.1,1226.6 1137.6,1223.9 1138.2,1210.6 1138.8,1211.9 1139.4,1212.7 1140.0,1196.6 1140.5,1202.5 1141.1,1200.9 1141.7,1214.1 1142.3,1196.7 1142.9,1209.8 1143.4,1197.0 1144.0,1183.2 1144.6,1207.3 1145.2,1183.1 1145.8,1191.2 1146.3,1195.8 1146.9,1177.8 1147.5,1170.1 1148.1,1181.4 1148.7,1171.2 1149.2,1158.9 1149.8,1155.6 1150.4,1155.6 1151.0,1159.6 1151.6,1147.3 1152.1,1148.5 1152.7,1149.6 1153.3,1141.9 1153.9,1137.5 1154.5,1130.9 1155.0,1108.5 1155.6,1120.4 1156.2,1110.1 1156.8,1102.8 1157.4,1092.5 1157.9,1085.3 1158.5,1084.7 1159.1,1088.5 1159.7,1077.4 1160.3,1076.7 1160.8,1075.1 1161.4,1080.6 1162.0,1070.9 1162.6,1068.6 1163.2,1075.6 1163.7,1061.6 1164.3,1066.1 1164.9,1052.2 1165.5,1062.7 1166.1,1061.0 1166.6,1061.6 1167.2,1056.5 1167.8,1052.2 1168.4,1058.3 1169.0,1057.3 1169.5,1069.7 1170.1,1069.0 1170.7,1052.7 1171.3,1067.7 1171.9,1059.7 1172.4,1068.4 1173.0,1064.9 1173.6,1062.7 1174.2,1082.9 1174.8,1084.6 1175.3,1080.2 1175.9,1082.0 1176.5,1095.6 1177.1,1097.1 1177.7,1106.9 1178.2,1117.7 1178.8,1127.8 1179.4,1121.7 1180.0,1137.3 1180.6,1141.3 1181.1,1136.8 1181.7,1134.6 1182.3,1155.0 1182.9,1158.6 1183.5,1174.2 1184.0,1173.3 1184.6,1173.8 1185.2,1183.8 1185.8,1170.1 1186.4,1181.9 1186.9,1182.8 1187.5,1199.4 1188.1,1195.7 1188.7,1176.4 1189.3,1208.0 1189.8,1197.1 1190.4,1211.1 1191.0,1206.3 1191.6,1213.9 1192.2,1219.3 1192.7,1219.1 1193.3,1213.9 1193.9,1231.6 1194.5,1226.9 1195.1,1225.7 1195.6,1232.1 1196.2,1225.1 1196.8,1242.9 1197.4,1232.9 1198.0,1235.1 1198.5,1236.2 1199.1,1228.8 1199.7,1228.1 1200.3,1238.7 1200.9,1240.6 1201.4,1248.5 1202.0,1243.3 1202.6,1233.6 1203.2,1245.6 1203.8,1248.5 1204.3,1250.5 1204.9,1246.7 1205.5,1236.7 1206.1,1253.9 1206.7,1241.6 1207.2,1251.3 1207.8,1237.2 1208.4,1253.9 1209.0,1243.9 1209.6,1257.4 1210.1,1262.7 1210.7,1259.3 1211.3,1243.9 1211.9,1246.1 1212.5,1247.2 1213.0,1258.3 1213.6,1256.8 1214.2,1256.1 1214.8,1257.7 1215.4,1260.2 1215.9,1261.2 1216.5,1268.9 1217.1,1257.6 1217.7,1259.9 1218.3,1246.5 1218.8,1250.6 1219.4,1255.4 1220.0,1252.6 1220.6,1262.6 1221.2,1268.7 1221.7,1259.2 1222.3,1259.3 1222.9,1259.6 1223.5,1264.4 1224.1,1260.2 1224.6,1267.2 1225.2,1266.7 1225.8,1267.4 1226.4,1270.6 1227.0,1266.0 1227.5,1267.1 1228.1,1278.4 1228.7,1266.4 1229.3,1272.4 1229.9,1267.6 1230.4,1264.3 1231.0,1264.6 1231.6,1262.3 1232.2,1268.1 1232.8,1264.1 1233.3,1265.5 1233.9,1276.9 1234.5,1267.8 1235.1,1276.7 1235.7,1270.9 1236.2,1275.1 1236.8,1265.2 1237.4,1270.5 1238.0,1287.6 1238.6,1275.4 1239.1,1276.8 1239.7,1271.7 1240.3,1276.1 1240.9,1262.4 1241.5,1264.7 1242.0,1273.5 1242.6,1276.3 1243.2,1268.0 1243.8,1269.6 1244.4,1268.6 1244.9,1269.8 1245.5,1263.0 1246.1,1261.5 1246.7,1270.8 1247.3,1259.6 1247.8,1264.9 1248.4,1267.1 1249.0,1264.5 1249.6,1273.3 1250.2,1268.7 1250.7,1271.2 1251.3,1264.9 1251.9,1266.8 1252.5,1275.3 1253.1,1274.3 1253.6,1268.7 1254.2,1274.3 1254.8,1273.1 1255.4,1272.9 1256.0,1282.8 1256.5,1269.1 1257.1,1274.7 1257.7,1274.7 1258.3,1270.2 1258.9,1263.8 1259.4,1276.5 1260.0,1273.6 1260.6,1272.1 1261.2,1271.9 1261.8,1271.9 1262.3,1265.6 1262.9,1273.7 1263.5,1259.4 1264.1,1271.6 1264.7,1261.5 1265.2,1269.3 1265.8,1276.6 1266.4,1269.9 1267.0,1268.4 1267.6,1275.2 1268.1,1269.8 1268.7,1268.9 1269.3,1269.0 1269.9,1282.0 1270.5,1276.2 1271.0,1274.9 1271.6,1263.5 1272.2,1275.9 1272.8,1262.8 1273.4,1274.9 1273.9,1264.0 1274.5,1285.0 1275.1,1260.1 1275.7,1280.0 1276.3,1277.1 1276.8,1259.4 1277.4,1269.9 1278.0,1281.3 1278.6,1279.1 1279.2,1260.0 1279.7,1267.6 1280.3,1263.1 1280.9,1263.9 1281.5,1266.4 1282.1,1283.0 1282.6,1271.2 1283.2,1268.6 1283.8,1267.6 1284.4,1274.1 1285.0,1274.0 1285.5,1262.9 1286.1,1278.7 1286.7,1261.2 1287.3,1266.3 1287.9,1270.9 1288.4,1279.1 1289.0,1264.9 1289.6,1268.8 1290.2,1275.3 1290.8,1270.3 1291.3,1273.4 1291.9,1272.4 1292.5,1266.7 1293.1,1268.9 1293.7,1270.4 1294.2,1263.6 1294.8,1274.2 1295.4,1249.5 1296.0,1256.3 1296.6,1271.9 1297.1,1264.6 1297.7,1256.9 1298.3,1263.4 1298.9,1267.8 1299.5,1256.2 1300.0,1264.7 1300.6,1258.1 1301.2,1257.6 1301.8,1257.4 1302.4,1264.7 1302.9,1249.0 1303.5,1253.4 1304.1,1259.7 1304.7,1246.2 1305.3,1243.0 1305.8,1256.8 1306.4,1252.1 1307.0,1250.3 1307.6,1251.4 1308.2,1243.0 1308.7,1268.4 1309.3,1241.1 1309.9,1243.9 1310.5,1236.2 1311.1,1242.1 1311.6,1254.2 1312.2,1243.0 1312.8,1245.9 1313.4,1237.5 1314.0,1252.0 1314.5,1239.7 1315.1,1228.9 1315.7,1241.2 1316.3,1232.1 1316.9,1237.3 1317.4,1232.6 1318.0,1231.9 1318.6,1229.5 1319.2,1220.8 1319.8,1215.1 1320.3,1230.1 1320.9,1220.9 1321.5,1222.0 1322.1,1215.1 1322.7,1202.7 1323.2,1205.7 1323.8,1221.7 1324.4,1204.9 1325.0,1205.4 1325.6,1195.9 1326.1,1200.0 1326.7,1198.8 1327.3,1197.5 1327.9,1196.2 1328.5,1190.0 1329.0,1188.0 1329.6,1189.3 1330.2,1189.0 1330.8,1183.3 1331.4,1193.4 1331.9,1180.2 1332.5,1177.2 1333.1,1168.8 1333.7,1177.7 1334.3,1160.7 1334.8,1153.9 1335.4,1155.6 1336.0,1163.9 1336.6,1148.9 1337.2,1162.8 1337.7,1150.9 1338.3,1137.8 1338.9,1143.6 1339.5,1154.5 1340.1,1133.5 1340.6,1127.5 1341.2,1137.4 1341.8,1140.3 1342.4,1135.9 1343.0,1124.1 1343.5,1125.6 1344.1,1124.3 1344.7,1128.2 1345.3,1133.0 1345.9,1114.7 1346.4,1122.8 1347.0,1109.0 1347.6,1114.0 1348.2,1101.1 1348.8,1100.9 1349.3,1108.6 1349.9,1097.6 1350.5,1110.8 1351.1,1098.8 1351.7,1103.1 1352.2,1101.2 1352.8,1098.6 1353.4,1101.8 1354.0,1108.8 1354.6,1124.5 1355.1,1089.9 1355.7,1101.5 1356.3,1097.4 1356.9,1091.2 1357.5,1100.8 1358.0,1091.2 1358.6,1097.8 1359.2,1108.6 1359.8,1082.0 1360.4,1100.6 1360.9,1102.3 1361.5,1090.9 1362.1,1103.1 1362.7,1101.8 1363.3,1096.2 1363.8,1109.0 1364.4,1088.6 1365.0,1104.6 1365.6,1097.7 1366.2,1091.4 1366.7,1098.9 1367.3,1098.0 1367.9,1107.7 1368.5,1090.2 1369.1,1101.1 1369.6,1099.9 1370.2,1116.4 1370.8,1096.6 1371.4,1114.4 1372.0,1093.9 1372.5,1111.1 1373.1,1108.7 1373.7,1114.3 1374.3,1109.5 1374.9,1104.9 1375.4,1111.7 1376.0,1134.2 1376.6,1131.9 1377.2,1130.1 1377.8,1145.9 1378.3,1140.6 1378.9,1145.2 1379.5,1146.4 1380.1,1165.8 1380.7,1174.6 1381.2,1158.6 1381.8,1170.4 1382.4,1178.3 1383.0,1189.2 1383.6,1162.4 1384.1,1182.5 1384.7,1188.9 1385.3,1177.7 1385.9,1193.1 1386.5,1194.4 1387.0,1200.5 1387.6,1194.1 1388.2,1203.1 1388.8,1198.3 1389.4,1208.7 1389.9,1207.6 1390.5,1205.8 1391.1,1200.6 1391.7,1223.3 1392.3,1221.4 1392.8,1221.5 1393.4,1212.5 1394.0,1216.3 1394.6,1231.7 1395.2,1226.9 1395.7,1217.5 1396.3,1225.1 1396.9,1227.2 1397.5,1226.4 1398.1,1222.7 1398.6,1239.0 1399.2,1235.9 1399.8,1231.8 1400.4,1223.6 1401.0,1231.6 1401.5,1236.6 1402.1,1243.7 1402.7,1236.2 1403.3,1247.3 1403.9,1241.6 1404.4,1236.5 1405.0,1223.4 1405.6,1235.4 1406.2,1234.1 1406.8,1244.1 1407.3,1248.3 1407.9,1256.3 1408.5,1247.6 1409.1,1240.6 1409.7,1265.3 1410.2,1252.1 1410.8,1248.9 1411.4,1249.7 1412.0,1242.9 1412.6,1257.1 1413.1,1256.0 1413.7,1264.9 1414.3,1262.2 1414.9,1261.2 1415.5,1264.4 1416.0,1254.4 1416.6,1253.9 1417.2,1257.0 1417.8,1249.3 1418.4,1257.3 1418.9,1256.5 1419.5,1263.7 1420.1,1259.5 1420.7,1246.9 1421.3,1260.6 1421.8,1270.5 1422.4,1248.6 1423.0,1256.3 1423.6,1262.0 1424.2,1253.2 1424.7,1258.8 1425.3,1263.3 1425.9,1254.2 1426.5,1265.5 1427.1,1266.6 1427.6,1255.5 1428.2,1264.6 1428.8,1272.1 1429.4,1263.8 1430.0,1268.3 1430.5,1270.0 1431.1,1264.2 1431.7,1272.8 1432.3,1269.0 1432.9,1259.9 1433.4,1270.5 1434.0,1273.0 1434.6,1272.9 1435.2,1263.3 1435.8,1271.0 1436.3,1277.5 1436.9,1269.9 1437.5,1276.6 1438.1,1277.6 1438.7,1268.8 1439.2,1273.7 1439.8,1267.5 1440.4,1276.9 1441.0,1269.2 1441.6,1266.3 1442.1,1270.1 1442.7,1270.0 1443.3,1273.2 1443.9,1274.0 1444.5,1263.1 1445.0,1266.8 1445.6,1273.8 1446.2,1274.9 1446.8,1272.4 1447.4,1289.8 1447.9,1279.7 1448.5,1271.8 1449.1,1277.5 1449.7,1281.8 1450.3,1275.4 1450.8,1261.3 1451.4,1273.9 1452.0,1273.8 1452.6,1288.0 1453.2,1261.4 1453.7,1284.4 1454.3,1273.1 1454.9,1280.6 1455.5,1272.5 1456.1,1275.8 1456.6,1282.4 1457.2,1275.5 1457.8,1282.2 1458.4,1274.7 1459.0,1272.6 1459.5,1274.1 1460.1,1272.3 1460.7,1275.1 1461.3,1285.2 1461.9,1268.3 1462.4,1265.2 1463.0,1276.4 1463.6,1288.0 1464.2,1283.8 1464.8,1285.8 1465.3,1285.5 1465.9,1272.4 1466.5,1278.2 1467.1,1259.7 1467.7,1273.6 1468.2,1281.9 1468.8,1267.6 1469.4,1264.4 1470.0,1269.6 1470.6,1280.0 1471.1,1286.5 1471.7,1296.1 1472.3,1288.5 1472.9,1269.0 1473.5,1263.8 1474.0,1280.5 1474.6,1286.7 1475.2,1269.0 1475.8,1276.5 1476.4,1277.2 1476.9,1280.6 1477.5,1279.3 1478.1,1284.2 1478.7,1288.0 1479.3,1281.6 1479.8,1286.3 1480.4,1294.8 1481.0,1275.1 1481.6,1275.1 1482.2,1285.7 1482.7,1294.7 1483.3,1283.9 1483.9,1290.2 1484.5,1281.2 1485.1,1289.5 1485.6,1279.6 1486.2,1288.4 1486.8,1286.8 1487.4,1287.0 1488.0,1293.6 1488.5,1291.8 1489.1,1281.0 1489.7,1291.0 1490.3,1274.1 1490.9,1292.0 1491.4,1303.8 1492.0,1289.3 1492.6,1289.2 1493.2,1286.4 1493.8,1291.6 1494.3,1283.2 1494.9,1290.7 1495.5,1284.4 1496.1,1283.4 1496.7,1287.1 1497.2,1285.8 1497.8,1274.7 1498.4,1299.9 1499.0,1287.0 1499.6,1274.8 1500.1,1293.1 1500.7,1285.7 1501.3,1287.1 1501.9,1290.4 1502.5,1279.7 1503.0,1266.0 1503.6,1284.7 1504.2,1286.8 1504.8,1291.7 1505.4,1280.0 1505.9,1283.1 1506.5,1287.3 1507.1,1282.5 1507.7,1282.7 1508.3,1285.9 1508.8,1277.5 1509.4,1294.4 1510.0,1277.7 1510.6,1283.9 1511.2,1281.3 1511.7,1278.6 1512.3,1286.7 1512.9,1289.7 1513.5,1292.6 1514.1,1286.6 1514.6,1279.6 1515.2,1288.2 1515.8,1272.7 1516.4,1282.5 1517.0,1285.6 1517.5,1285.7 1518.1,1274.2 1518.7,1271.8 1519.3,1292.8 1519.9,1278.1 1520.4,1270.5 1521.0,1273.1 1521.6,1281.4 1522.2,1289.1 1522.8,1281.1 1523.3,1289.1 1523.9,1282.5 1524.5,1284.1 1525.1,1287.4 1525.7,1278.2 1526.2,1282.7 1526.8,1278.0 1527.4,1276.3 1528.0,1284.9 1528.6,1274.9 1529.1,1280.9 1529.7,1275.0 1530.3,1279.6 1530.9,1276.6 1531.5,1287.4 1532.0,1280.5 1532.6,1280.4 1533.2,1290.9 1533.8,1260.3 1534.4,1272.1 1534.9,1261.1 1535.5,1279.3 1536.1,1282.2 1536.7,1283.5 1537.3,1280.8 1537.8,1273.1 1538.4,1290.6 1539.0,1280.7 1539.6,1276.8 1540.2,1270.9 1540.7,1281.1 1541.3,1274.8 1541.9,1274.9 1542.5,1279.1 1543.1,1278.9 1543.6,1271.7 1544.2,1285.1 1544.8,1269.8 1545.4,1268.7 1546.0,1277.6 1546.5,1275.9 1547.1,1275.0 1547.7,1271.2 1548.3,1273.6 1548.9,1269.0 1549.4,1261.3 1550.0,1276.2 1550.6,1264.1 1551.2,1268.5 1551.8,1274.1 1552.3,1268.7 1552.9,1285.8 1553.5,1257.8 1554.1,1261.3 1554.7,1266.1 1555.2,1273.7 1555.8,1262.4 1556.4,1253.7 1557.0,1270.1 1557.6,1255.6 1558.1,1259.7 1558.7,1266.1 1559.3,1255.0 1559.9,1255.7 1560.5,1261.1 1561.0,1255.7 1561.6,1258.1 1562.2,1248.9 1562.8,1253.6 1563.4,1246.1 1563.9,1242.1 1564.5,1263.3 1565.1,1253.6 1565.7,1255.7 1566.3,1242.0 1566.8,1247.3 1567.4,1245.0 1568.0,1235.7 1568.6,1247.8 1569.2,1238.1 1569.7,1240.4 1570.3,1230.3 1570.9,1245.8 1571.5,1242.8 1572.1,1238.9 1572.6,1228.7 1573.2,1229.6 1573.8,1239.7 1574.4,1228.0 1575.0,1230.0 1575.5,1227.4 1576.1,1217.2 1576.7,1233.3 1577.3,1207.8 1577.9,1221.0 1578.4,1217.1 1579.0,1204.9 1579.6,1216.4 1580.2,1215.8 1580.8,1210.7 1581.3,1202.8 1581.9,1209.4 1582.5,1211.9 1583.1,1203.8 1583.7,1212.1 1584.2,1204.1 1584.8,1201.6 1585.4,1204.0 1586.0,1187.7 1586.6,1186.9 1587.1,1192.6 1587.7,1191.0 1588.3,1196.7 1588.9,1192.5 1589.5,1183.9 1590.0,1182.5 1590.6,1177.3 1591.2,1175.0 1591.8,1172.7 1592.4,1181.2 1592.9,1169.5 1593.5,1169.0 1594.1,1171.7 1594.7,1165.4 1595.3,1166.6 1595.8,1150.5 1596.4,1170.1 1597.0,1164.3 1597.6,1168.3 1598.2,1169.8 1598.7,1152.4 1599.3,1186.7 1599.9,1169.7 1600.5,1170.7 1601.1,1156.7 1601.6,1176.3 1602.2,1175.9 1602.8,1171.5 1603.4,1177.5 1604.0,1186.7 1604.5,1176.3 1605.1,1173.8 1605.7,1191.7 1606.3,1185.6 1606.9,1184.1 1607.4,1203.7 1608.0,1189.8 1608.6,1189.0 1609.2,1193.7 1609.8,1190.4 1610.3,1196.3 1610.9,1197.1 1611.5,1192.5 1612.1,1196.6 1612.7,1201.9 1613.2,1203.6 1613.8,1206.2 1614.4,1208.9 1615.0,1206.2 1615.6,1209.3 1616.1,1204.0 1616.7,1206.1 1617.3,1216.6 1617.9,1196.2 1618.5,1214.1 1619.0,1235.1 1619.6,1200.6 1620.2,1225.6 1620.8,1203.6 1621.4,1219.7 1621.9,1229.7 1622.5,1229.8 1623.1,1214.0 1623.7,1212.4 1624.3,1212.5 1624.8,1228.7 1625.4,1221.9 1626.0,1225.8 1626.6,1228.5 1627.2,1230.6 1627.7,1232.5 1628.3,1230.6 1628.9,1219.6 1629.5,1241.9 1630.1,1213.8 1630.6,1242.4 1631.2,1230.6 1631.8,1234.4 1632.4,1233.2 1633.0,1235.2 1633.5,1238.6 1634.1,1237.8 1634.7,1233.1 1635.3,1247.4 1635.9,1238.5 1636.4,1252.6 1637.0,1243.3 1637.6,1240.4 1638.2,1249.1 1638.8,1253.0 1639.3,1241.5 1639.9,1246.7 1640.5,1259.1 1641.1,1243.4 1641.7,1245.2 1642.2,1252.8 1642.8,1244.1 1643.4,1236.3 1644.0,1242.5 1644.6,1257.0 1645.1,1259.6 1645.7,1259.9 1646.3,1259.2 1646.9,1248.9 1647.5,1262.4 1648.0,1266.3 1648.6,1254.4 1649.2,1266.1 1649.8,1257.9 1650.4,1262.3 1650.9,1264.1 1651.5,1252.2 1652.1,1272.7 1652.7,1257.7 1653.3,1263.3 1653.8,1261.2 1654.4,1268.2 1655.0,1268.6 1655.6,1266.4 1656.2,1276.2 1656.7,1269.2 1657.3,1265.2 1657.9,1249.2 1658.5,1267.0 1659.1,1267.5 1659.6,1264.2 1660.2,1264.7 1660.8,1274.9 1661.4,1278.4 1662.0,1284.5 1662.5,1280.0 1663.1,1268.3 1663.7,1275.1 1664.3,1264.9 1664.9,1279.2 1665.4,1277.2 1666.0,1271.3 1666.6,1275.1 1667.2,1274.6 1667.8,1272.5 1668.3,1285.9 1668.9,1298.0 1669.5,1283.5 1670.1,1285.6 1670.7,1280.2 1671.2,1277.3 1671.8,1294.4 1672.4,1278.2 1673.0,1283.6 1673.6,1280.8 1674.1,1285.8 1674.7,1282.1 1675.3,1286.8 1675.9,1275.2 1676.5,1283.2 1677.0,1293.1 1677.6,1278.0 1678.2,1280.8 1678.8,1294.4 1679.4,1288.5 1679.9,1293.2 1680.5,1272.2 1681.1,1288.0 1681.7,1279.1 1682.3,1278.7 1682.8,1290.7 1683.4,1296.0 1684.0,1278.9 1684.6,1281.7 1685.2,1285.4 1685.7,1288.6 1686.3,1280.9 1686.9,1304.5 1687.5,1293.8 1688.1,1287.8 1688.6,1286.9 1689.2,1305.6 1689.8,1305.1 1690.4,1287.4 1691.0,1293.0 1691.5,1299.1 1692.1,1283.2 1692.7,1287.2 1693.3,1300.0 1693.9,1286.7 1694.4,1288.6 1695.0,1282.7 1695.6,1286.6 1696.2,1296.2 1696.8,1286.4 1697.3,1283.3 1697.9,1287.8 1698.5,1303.6 1699.1,1293.3 1699.7,1288.5 1700.2,1293.3 1700.8,1295.2 1701.4,1293.2 1702.0,1280.7 1702.6,1294.5 1703.1,1291.2 1703.7,1298.2 1704.3,1283.8 1704.9,1299.6 1705.5,1289.6 1706.0,1281.7 1706.6,1301.6 1707.2,1289.5 1707.8,1295.4 1708.4,1291.9 1708.9,1300.2 1709.5,1300.3 1710.1,1300.3 1710.7,1297.7 1711.3,1282.4 1711.8,1282.0 1712.4,1294.3 1713.0,1286.7 1713.6,1296.0 1714.2,1293.9 1714.7,1283.5 1715.3,1285.8 1715.9,1285.1 1716.5,1286.5 1717.1,1290.8 1717.6,1296.4 1718.2,1300.5 1718.8,1285.3 1719.4,1287.7 1720.0,1301.3 1720.5,1296.8 1721.1,1292.3 1721.7,1275.2 1722.3,1283.7 1722.9,1291.1 1723.4,1286.0 1724.0,1302.7 1724.6,1290.0 1725.2,1291.1 1725.8,1281.8 1726.3,1281.9 1726.9,1284.2 1727.5,1284.3 1728.1,1286.7 1728.7,1290.5 1729.2,1289.4 1729.8,1294.2 1730.4,1278.5 1731.0,1288.5 1731.6,1288.5 1732.1,1297.2 1732.7,1285.0 1733.3,1288.4 1733.9,1280.6 1734.5,1288.6 1735.0,1288.3 1735.6,1281.3 1736.2,1282.3 1736.8,1284.9 1737.4,1288.8 1737.9,1277.1 1738.5,1290.5 1739.1,1282.3 1739.7,1297.0 1740.3,1293.9 1740.8,1281.4 1741.4,1279.7 1742.0,1300.2 1742.6,1287.9 1743.2,1287.3 1743.7,1280.6 1744.3,1282.4 1744.9,1288.5 1745.5,1287.1 1746.1,1277.3 1746.6,1290.9 1747.2,1284.5 1747.8,1275.9 1748.4,1288.7 1749.0,1280.7 1749.5,1286.8 1750.1,1277.7 1750.7,1283.5 1751.3,1270.1 1751.9,1283.0 1752.4,1270.0 1753.0,1280.6 1753.6,1262.4 1754.2,1277.9 1754.8,1282.3 1755.3,1280.0 1755.9,1283.8 1756.5,1268.3 1757.1,1284.6 1757.7,1284.0 1758.2,1264.8 1758.8,1266.5 1759.4,1267.1 1760.0,1269.8 1760.6,1270.2 1761.1,1251.9 1761.7,1271.2 1762.3,1264.8 1762.9,1258.9 1763.5,1271.3 1764.0,1261.9 1764.6,1271.2 1765.2,1266.6 1765.8,1260.3 1766.4,1270.0 1766.9,1267.2 1767.5,1257.7 1768.1,1249.7 1768.7,1256.7 1769.3,1264.4 1769.8,1258.2 1770.4,1271.7 1771.0,1261.0 1771.6,1260.2 1772.2,1261.4 1772.7,1252.1 1773.3,1257.1 1773.9,1253.1 1774.5,1241.0 1775.1,1244.8 1775.6,1262.1 1776.2,1253.6 1776.8,1255.6 1777.4,1245.9 1778.0,1251.9 1778.5,1261.3 1779.1,1256.2 1779.7,1251.7 1780.3,1265.9 1780.9,1254.5 1781.4,1252.2 1782.0,1262.6 1782.6,1242.0 1783.2,1257.9 1783.8,1245.9 1784.3,1248.0 1784.9,1248.5 1785.5,1254.0 1786.1,1253.6 1786.7,1254.8 1787.2,1253.9 1787.8,1262.1 1788.4,1264.0 1789.0,1256.8 1789.6,1256.9 1790.1,1248.7 1790.7,1243.3 1791.3,1255.2 1791.9,1251.1 1792.5,1256.8 1793.0,1237.5 1793.6,1269.6 1794.2,1241.1 1794.8,1250.4 1795.4,1257.2 1795.9,1240.1 1796.5,1246.0 1797.1,1235.4 1797.7,1239.7 1798.3,1236.0 1798.8,1250.8 1799.4,1252.3 1800.0,1248.0 1800.6,1259.4 1801.2,1260.4 1801.7,1250.6 1802.3,1249.3 1802.9,1249.1 1803.5,1248.1 1804.1,1260.8 1804.6,1253.5 1805.2,1249.7 1805.8,1250.7 1806.4,1256.4 1807.0,1250.1 1807.5,1255.4 1808.1,1253.2 1808.7,1263.3 1809.3,1262.2 1809.9,1244.5 1810.4,1253.6 1811.0,1260.1 1811.6,1252.3 1812.2,1261.4 1812.8,1258.4 1813.3,1260.5 1813.9,1256.3 1814.5,1259.3 1815.1,1261.2 1815.7,1248.0 1816.2,1252.3 1816.8,1252.1 1817.4,1271.1 1818.0,1262.2 1818.6,1263.3 1819.1,1262.5 1819.7,1258.4 1820.3,1257.5 1820.9,1268.8 1821.5,1261.2 1822.0,1274.9 1822.6,1266.2 1823.2,1266.1 1823.8,1264.6 1824.4,1266.2 1824.9,1267.5 1825.5,1278.0 1826.1,1284.0 1826.7,1261.2 1827.3,1271.1 1827.8,1274.7 1828.4,1264.3 1829.0,1266.6 1829.6,1268.3 1830.2,1255.7 1830.7,1276.6 1831.3,1272.4 1831.9,1272.6 1832.5,1274.2 1833.1,1275.8 1833.6,1290.0 1834.2,1276.3 1834.8,1281.1 1835.4,1272.5 1836.0,1278.8 1836.5,1274.8 1837.1,1276.3 1837.7,1271.7 1838.3,1272.7 1838.9,1281.5 1839.4,1283.8 1840.0,1282.3 1840.6,1275.1 1841.2,1282.0 1841.8,1263.4 1842.3,1286.8 1842.9,1280.5 1843.5,1282.8 1844.1,1289.0 1844.7,1278.7 1845.2,1288.1 1845.8,1279.0 1846.4,1285.7 1847.0,1279.6 1847.6,1284.5 1848.1,1292.3 1848.7,1278.5 1849.3,1278.9 1849.9,1280.9 1850.5,1285.2 1851.0,1301.6 1851.6,1279.7 1852.2,1270.1 1852.8,1279.5 1853.4,1273.5 1853.9,1280.4 1854.5,1284.4 1855.1,1278.1 1855.7,1280.1 1856.3,1272.4 1856.8,1286.1 1857.4,1280.2 1858.0,1292.5 1858.6,1292.4 1859.2,1280.1 1859.7,1283.6 1860.3,1286.6 1860.9,1291.5 1861.5,1276.1 1862.1,1286.8 1862.6,1299.7 1863.2,1287.4 1863.8,1289.8 1864.4,1288.8 1865.0,1281.6 1865.5,1295.8 1866.1,1291.8 1866.7,1291.5 1867.3,1295.6 1867.9,1296.4 1868.4,1279.6 1869.0,1295.2 1869.6,1288.8 1870.2,1293.9 1870.8,1288.7 1871.3,1288.0 1871.9,1300.0 1872.5,1294.2 1873.1,1292.7 1873.7,1292.9 1874.2,1295.4 1874.8,1295.0 1875.4,1280.1 1876.0,1289.9 1876.6,1294.1 1877.1,1300.6 1877.7,1304.8 1878.3,1290.2 1878.9,1308.8 1879.5,1297.1 1880.0,1299.8 1880.6,1293.4 1881.2,1293.1 1881.8,1306.4 1882.4,1295.9 1882.9,1296.8 1883.5,1305.0 1884.1,1308.8 1884.7,1288.2 1885.3,1296.7 1885.8,1297.9 1886.4,1309.8 1887.0,1314.0 1887.6,1297.9 1888.2,1300.7 1888.7,1303.9 1889.3,1305.8 1889.9,1296.3 1890.5,1303.9 1891.1,1293.8 1891.6,1281.1 1892.2,1289.3 1892.8,1299.4 1893.4,1302.8 1894.0,1283.2 1894.5,1285.9 1895.1,1296.9 1895.7,1275.4 1896.3,1300.2 1896.9,1302.9 1897.4,1277.0 1898.0,1300.6 1898.6,1294.1 1899.2,1304.1 1899.8,1296.5 1900.3,1292.9 1900.9,1294.8 1901.5,1299.8 1902.1,1294.6 1902.7,1293.4 1903.2,1283.6 1903.8,1295.7 1904.4,1292.5 1905.0,1304.0 1905.6,1291.8 1906.1,1291.1 1906.7,1287.4 1907.3,1296.0 1907.9,1289.8 1908.5,1286.4 1909.0,1301.2 1909.6,1302.3 1910.2,1287.5 1910.8,1283.6 1911.4,1297.6 1911.9,1284.6 1912.5,1308.4 1913.1,1288.9 1913.7,1295.9 1914.3,1281.0 1914.8,1289.1 1915.4,1296.3 1916.0,1291.8 1916.6,1285.3 1917.2,1304.6 1917.7,1293.2 1918.3,1286.7 1918.9,1284.0 1919.5,1285.9 1920.1,1296.3 1920.6,1282.1 1921.2,1287.1 1921.8,1281.2 1922.4,1294.3 1923.0,1284.7 1923.5,1290.8 1924.1,1288.4 1924.7,1280.4 1925.3,1288.1 1925.9,1289.0 1926.4,1274.9 1927.0,1286.1 1927.6,1303.8 1928.2,1278.2 1928.8,1283.5 1929.3,1270.0 1929.9,1280.8 1930.5,1273.2 1931.1,1281.2 1931.7,1275.1 1932.2,1267.0 1932.8,1281.0 1933.4,1271.6 1934.0,1265.6 1934.6,1271.9 1935.1,1264.4 1935.7,1272.6 1936.3,1268.8 1936.9,1266.1 1937.5,1272.3 1938.0,1258.7 1938.6,1273.0 1939.2,1252.4 1939.8,1275.9 1940.4,1265.6 1940.9,1261.9 1941.5,1258.1 1942.1,1266.0 1942.7,1260.5 1943.3,1259.7 1943.8,1267.2 1944.4,1256.6 1945.0,1257.2 1945.6,1261.1 1946.2,1264.8 1946.7,1255.7 1947.3,1257.2 1947.9,1255.7 1948.5,1259.8 1949.1,1264.3 1949.6,1247.0 1950.2,1251.8 1950.8,1251.6 1951.4,1255.2 1952.0,1260.6 1952.5,1249.4 1953.1,1250.1 1953.7,1255.6 1954.3,1238.4 1954.9,1240.8 1955.4,1242.2 1956.0,1244.5 1956.6,1245.4 1957.2,1239.4 1957.8,1254.9 1958.3,1236.8 1958.9,1239.9 1959.5,1248.8 1960.1,1246.2 1960.7,1240.2 1961.2,1242.9 1961.8,1246.2 1962.4,1240.1 1963.0,1245.0 1963.6,1233.9 1964.1,1241.4 1964.7,1229.4 1965.3,1235.3 1965.9,1234.1 1966.5,1251.7 1967.0,1240.2 1967.6,1246.2 1968.2,1238.3 1968.8,1244.1 1969.4,1244.4 1969.9,1241.1 1970.5,1253.8 1971.1,1237.1 1971.7,1253.8 1972.3,1268.6 1972.8,1245.2 1973.4,1251.8 1974.0,1241.5 1974.6,1252.7 1975.2,1241.6 1975.7,1258.6 1976.3,1251.6 1976.9,1243.0 1977.5,1247.5 1978.1,1246.3 1978.6,1255.9 1979.2,1264.4 1979.8,1256.7 1980.4,1252.1 1981.0,1255.2 1981.5,1262.4 1982.1,1245.9 1982.7,1267.1 1983.3,1266.6 1983.9,1248.0 1984.4,1273.3 1985.0,1255.0 1985.6,1265.3 1986.2,1275.3 1986.8,1257.1 1987.3,1256.3 1987.9,1261.9 1988.5,1262.8 1989.1,1269.9 1989.7,1268.0 1990.2,1268.8 1990.8,1269.6 1991.4,1272.3 1992.0,1268.5 1992.6,1277.0 1993.1,1275.5 1993.7,1269.4 1994.3,1288.9 1994.9,1269.0 1995.5,1282.9 1996.0,1273.7 1996.6,1281.6 1997.2,1283.2 1997.8,1286.0 1998.4,1290.2 1998.9,1275.7 1999.5,1300.7 2000.1,1284.9 2000.7,1277.2 2001.3,1274.0 2001.8,1299.0 2002.4,1294.8 2003.0,1284.1 2003.6,1289.6 2004.2,1293.7 2004.7,1285.9 2005.3,1282.8 2005.9,1285.7 2006.5,1291.9 2007.1,1286.8 2007.6,1278.8 2008.2,1292.3 2008.8,1276.2 2009.4,1283.0 2010.0,1296.5 2010.5,1290.2 2011.1,1290.5 2011.7,1290.0 2012.3,1296.5 2012.9,1289.7 2013.4,1277.6 2014.0,1292.4 2014.6,1271.1 2015.2,1278.1 2015.8,1302.2 2016.3,1299.0 2016.9,1289.6 2017.5,1292.5 2018.1,1293.9 2018.7,1300.2 2019.2,1289.0 2019.8,1288.6 2020.4,1290.6 2021.0,1295.9 2021.6,1297.0 2022.1,1293.1 2022.7,1300.9 2023.3,1289.6 2023.9,1296.0 2024.5,1292.3 2025.0,1290.5 2025.6,1305.3 2026.2,1295.6 2026.8,1291.5 2027.4,1298.6 2027.9,1292.1 2028.5,1302.8 2029.1,1304.7 2029.7,1306.1 2030.3,1292.9 2030.8,1299.1 2031.4,1312.2 2032.0,1299.1 2032.6,1308.9 2033.2,1310.7 2033.7,1292.0 2034.3,1309.0 2034.9,1306.1 2035.5,1307.0 2036.1,1312.3 2036.6,1304.3 2037.2,1301.8 2037.8,1305.3 2038.4,1299.0 2039.0,1304.5 2039.5,1288.1 2040.1,1312.6 2040.7,1297.8 2041.3,1304.8 2041.9,1303.3 2042.4,1302.0 2043.0,1302.0 2043.6,1301.7 2044.2,1290.5 2044.8,1297.7 2045.3,1309.1 2045.9,1294.6 2046.5,1294.4 2047.1,1315.1 2047.7,1309.2 2048.2,1311.5 2048.8,1301.2 2049.4,1303.0 2050.0,1306.2 2050.6,1304.9 2051.1,1300.7 2051.7,1291.7 2052.3,1296.4 2052.9,1291.4 2053.5,1311.5 2054.0,1298.6 2054.6,1300.0 2055.2,1303.0 2055.8,1301.3 2056.4,1304.6 2056.9,1297.1 2057.5,1291.2 2058.1,1312.6 2058.7,1296.5 2059.3,1298.0 2059.8,1295.9 2060.4,1297.5 2061.0,1301.2 2061.6,1305.9 2062.2,1294.1 2062.7,1302.8 2063.3,1296.4 2063.9,1308.4 2064.5,1292.5 2065.1,1301.0 2065.6,1304.8 2066.2,1291.2 2066.8,1300.5 2067.4,1300.6 2068.0,1294.3 2068.5,1297.9 2069.1,1305.5 2069.7,1300.5 2070.3,1296.1 2070.9,1297.3 2071.4,1301.5 2072.0,1306.8 2072.6,1303.7 2073.2,1303.2 2073.8,1308.7 2074.3,1288.4 2074.9,1289.1 2075.5,1283.7 2076.1,1303.9 2076.7,1283.7 2077.2,1298.3 2077.8,1303.5 2078.4,1289.6 2079.0,1294.4 2079.6,1297.1 2080.1,1303.5 2080.7,1289.1 2081.3,1301.0 2081.9,1303.6 2082.5,1300.1 2083.0,1300.3 2083.6,1307.4 2084.2,1300.9 2084.8,1299.5 2085.4,1297.6 2085.9,1304.1 2086.5,1298.2 2087.1,1304.4 2087.7,1301.1 2088.3,1307.8 2088.8,1295.8 2089.4,1301.5 2090.0,1303.4 2090.6,1304.1 2091.2,1308.8 2091.7,1304.4 2092.0,1307.7"/>
<text class="sans" font-size="100" fill="#000" transform="matrix(0.66591,0,0,0.64124,152.19,249.97)">2000</text>
<text class="sans" font-size="100" fill="#000" transform="matrix(0.67198,0,0,0.64971,152.07,569.87)">1500</text>
<text class="sans" font-size="100" fill="#000" transform="matrix(0.66962,0,0,0.65536,152.08,886.46)">1000</text>
<text class="sans" font-size="100" fill="#000" transform="matrix(0.62943,0,0,0.64124,191.96,1202.07)">500</text>
<text class="sans" font-size="100" fill="#000" transform="matrix(0.67045,0,0,0.65677,315.43,1445.36)">20</text>
<text class="sans" font-size="100" fill="#000" transform="matrix(0.66295,0,0,0.65542,604.93,1445.26)">30</text>
<text class="sans" font-size="100" fill="#000" transform="matrix(0.65805,0,0,0.65677,895.95,1445.36)">40</text>
<text class="sans" font-size="100" fill="#000" transform="matrix(0.66793,0,0,0.65677,1185.40,1445.36)">50</text>
<text class="sans" font-size="100" fill="#000" transform="matrix(0.67171,0,0,0.65677,1473.99,1445.36)">60</text>
<text class="sans" font-size="100" fill="#000" transform="matrix(0.67586,0,0,0.65677,1765.55,1445.36)">70</text>
<text class="sans" font-size="100" fill="#000" transform="matrix(0.66856,0,0,0.65677,2056.33,1445.36)">80</text>
<text class="serif" font-size="100" fill="#000" transform="matrix(0.60728,0,0,0.55363,449.83,149.51)">(101)</text>
<text class="serif" font-size="100" fill="#000" transform="matrix(0.61065,0,0,0.55363,804.12,1025.21)">(004)</text>
<text class="serif" font-size="100" fill="#000" transform="matrix(0.61113,0,0,0.56025,1096.31,1013.37)">(200)</text>
<text class="serif" font-size="100" fill="#000" transform="matrix(0.61257,0,0,0.57348,1293.11,1068.19)">(211)</text>
<text class="serif" font-size="100" fill="#000" transform="matrix(0.61257,0,0,0.56135,1535.71,1118.05)">(204)</text>
<text class="sans" font-size="100" fill="#000" transform="matrix(0,-1.00802,1.06250,0,115.50,714.04)">Intensity (a.u)</text>
<text class="sans" fill="#000" transform="scale(0.93000,0.95058)"><tspan x="1791.91 1854.15 1915.92 1981.04 2044.91 2080.40 2139.64" y="1646.68" font-size="100.00">2Theta(</tspan><tspan x="2176.77" y="1589.97" font-size="60.00">0</tspan><tspan x="2213.56" y="1646.68" font-size="100.00">)</tspan></text>
<text class="serif" fill="#f00" transform="scale(1.35614,1.35614)"><tspan x="1169.63 1228.25 1301.73 1335.17 1402.08 1428.75" y="136.49" font-size="100.00">FA-TiO</tspan><tspan x="1505.31" y="176.75" font-size="56.00">2</tspan></text>
<text class="serif" fill="#000" transform="scale(1.35614,1.35614)"><tspan x="1241.82 1305.78 1332.37" y="250.49" font-size="100.00">TiO</tspan><tspan x="1409.45" y="289.79" font-size="56.00">2</tspan></text>
</svg>
</body></html>
